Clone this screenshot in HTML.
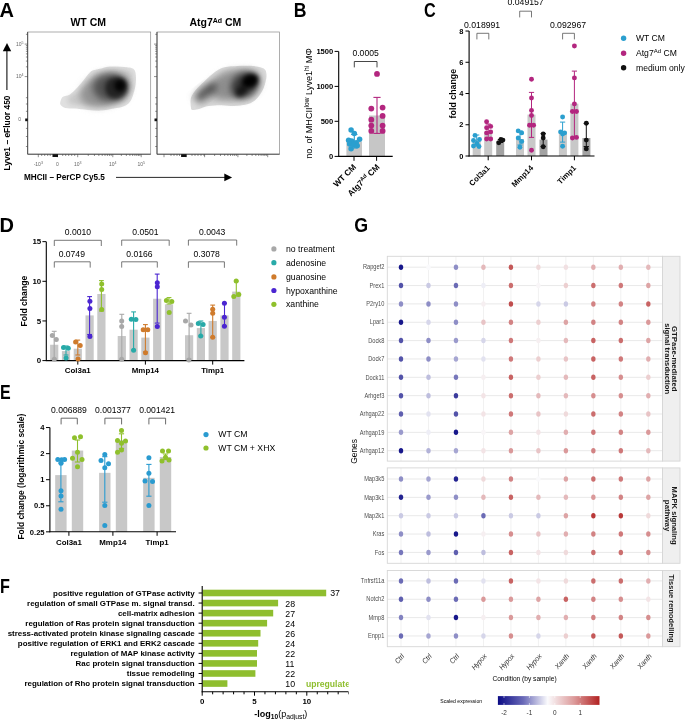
<!DOCTYPE html>
<html><head><meta charset="utf-8"><style>
html,body{margin:0;padding:0;background:#fff;}
svg{display:block;font-family:"Liberation Sans",sans-serif;}
.mb{isolation:isolate;} .mb>*{mix-blend-mode:multiply;}
</style></head><body>
<svg width="685" height="720" viewBox="0 0 685 720">
<rect width="685" height="720" fill="#fff"/>
<text transform="translate(-0.5,17.2) scale(1.0,1)" style="font-size:20px;font-weight:bold">A</text>
<text x="88.2" y="26" style="font-size:10.5px;font-weight:bold;fill:#000" text-anchor="middle" >WT CM</text>
<text x="215.4" y="26" style="font-size:10.5px;font-weight:bold" text-anchor="middle">Atg7<tspan dy="-3.5" style="font-size:7px">Ad</tspan><tspan dy="3.5"> CM</tspan></text>
<defs>
<filter id="b0" x="-30%" y="-30%" width="160%" height="160%"><feGaussianBlur stdDeviation="0.7"/></filter>
<filter id="b1" x="-30%" y="-30%" width="160%" height="160%"><feGaussianBlur stdDeviation="0.9"/></filter>
<filter id="b2" x="-30%" y="-30%" width="160%" height="160%"><feGaussianBlur stdDeviation="2.5"/></filter>
<filter id="b3" x="-50%" y="-50%" width="200%" height="200%"><feGaussianBlur stdDeviation="3.5"/></filter>
<filter id="b4" x="-50%" y="-50%" width="200%" height="200%"><feGaussianBlur stdDeviation="2"/></filter>
<linearGradient id="cbar" x1="0" x2="1" y1="0" y2="0">
<stop offset="0" stop-color="#0b0b85"/><stop offset="0.25" stop-color="#6a6ab8"/><stop offset="0.49" stop-color="#fbfbfd"/><stop offset="0.75" stop-color="#dc9a9a"/><stop offset="1" stop-color="#b22222"/>
</linearGradient>
</defs>
<g class="mb">
<path d="M60.3 102 C60.63 100.58 61.37 98 62.9 96.8 C64.43 95.6 67.1 96.33 69.5 94.8 C71.9 93.27 74.9 90.12 77.3 87.6 C79.7 85.08 81.7 82.33 83.9 79.7 C86.1 77.07 88.75 73.43 90.5 71.8 C92.25 70.17 92.65 70.45 94.4 69.9 C96.15 69.35 98.37 69.05 101 68.5 C103.63 67.95 105.82 66.82 110.2 66.6 C114.58 66.38 123.37 66.77 127.3 67.2 C131.23 67.63 132.38 67.98 133.8 69.2 C135.22 70.42 135.47 72.08 135.8 74.5 C136.13 76.92 136.13 80.65 135.8 83.7 C135.47 86.75 134.78 89.75 133.8 92.8 C132.82 95.85 131.65 99.7 129.9 102 C128.15 104.3 125.93 105.5 123.3 106.6 C120.67 107.7 117.82 107.93 114.1 108.6 C110.38 109.27 105.38 110.38 101 110.6 C96.62 110.82 92.18 110.23 87.8 109.9 C83.42 109.57 78.42 108.92 74.7 108.6 C70.98 108.28 67.8 108.55 65.5 108 C63.2 107.45 61.77 106.3 60.9 105.3 C60.03 104.3 59.97 103.42 60.3 102Z" fill="#e0e0e0" filter="url(#b0)"/>
<path d="M68.06 99.6 C68.34 98.4 68.96 96.2 70.27 95.18 C71.57 94.16 73.84 94.78 75.88 93.48 C77.91 92.18 80.46 89.5 82.5 87.36 C84.55 85.22 86.25 82.88 88.12 80.64 C89.99 78.41 92.24 75.32 93.72 73.93 C95.21 72.54 95.55 72.78 97.04 72.31 C98.53 71.85 100.41 71.59 102.65 71.12 C104.89 70.66 106.74 69.69 110.47 69.51 C114.2 69.33 121.66 69.65 125 70.02 C128.35 70.39 129.33 70.69 130.53 71.72 C131.73 72.75 131.95 74.17 132.23 76.22 C132.51 78.28 132.51 81.45 132.23 84.05 C131.95 86.64 131.37 89.19 130.53 91.78 C129.69 94.37 128.7 97.64 127.22 99.6 C125.73 101.55 123.84 102.57 121.6 103.51 C119.37 104.44 116.94 104.64 113.78 105.21 C110.63 105.78 106.38 106.73 102.65 106.91 C98.92 107.09 95.16 106.6 91.43 106.31 C87.7 106.03 83.45 105.48 80.3 105.21 C77.14 104.94 74.43 105.17 72.47 104.7 C70.52 104.23 69.3 103.25 68.56 102.41 C67.83 101.56 67.77 100.8 68.06 99.6Z" fill="#e4e4e4" filter="url(#b2)"/>
<ellipse cx="104" cy="90" rx="25" ry="16" fill="#bcbcbc" filter="url(#b3)" transform="rotate(-20 104 90)"/>
<ellipse cx="111" cy="87.5" rx="18" ry="14" fill="#8c8c8c" filter="url(#b3)"/>
<ellipse cx="116" cy="88" rx="11" ry="11" fill="#6c6c6c" filter="url(#b4)" transform="rotate(25 116 88)"/>
<ellipse cx="120" cy="85.5" rx="5.5" ry="6.2" fill="#181818" filter="url(#b4)" transform="rotate(15 120 85.5)"/>
</g>
<g class="mb">
<path d="M190.9 107.3 C190.68 105.33 190.13 100.95 190.9 98.1 C191.67 95.25 193.2 93.05 195.5 90.2 C197.8 87.35 201.42 84.07 204.7 81 C207.98 77.93 211.92 74.1 215.2 71.8 C218.48 69.5 220.67 68.18 224.4 67.2 C228.13 66.22 232.78 66.12 237.6 65.9 C242.42 65.68 248.93 65.47 253.3 65.9 C257.67 66.33 261.6 67.07 263.8 68.5 C266 69.93 266.28 71.97 266.5 74.5 C266.72 77.03 265.98 80.65 265.1 83.7 C264.22 86.75 262.95 89.97 261.2 92.8 C259.45 95.63 257.23 98.72 254.6 100.7 C251.97 102.68 249.33 103.82 245.4 104.7 C241.47 105.58 235.6 105.9 231 106 C226.4 106.1 221.97 105.2 217.8 105.3 C213.63 105.4 209.28 105.93 206 106.6 C202.72 107.27 200.4 108.75 198.1 109.3 C195.8 109.85 193.4 110.23 192.2 109.9 C191 109.57 191.12 109.27 190.9 107.3Z" fill="#dbdbdb" filter="url(#b0)"/>
<path d="M197.97 103.8 C197.78 102.13 197.31 98.41 197.97 95.98 C198.62 93.56 199.92 91.69 201.88 89.27 C203.83 86.85 206.9 84.06 209.69 81.45 C212.49 78.84 215.83 75.58 218.62 73.63 C221.41 71.67 223.27 70.56 226.44 69.72 C229.61 68.88 233.57 68.8 237.66 68.62 C241.75 68.43 247.29 68.25 251 68.62 C254.72 68.98 258.06 69.61 259.93 70.83 C261.8 72.04 262.04 73.77 262.23 75.92 C262.41 78.08 261.79 81.15 261.04 83.75 C260.28 86.34 259.21 89.07 257.72 91.48 C256.23 93.89 254.35 96.51 252.11 98.2 C249.87 99.88 247.63 100.84 244.29 101.59 C240.95 102.35 235.96 102.62 232.05 102.7 C228.14 102.78 224.37 102.02 220.83 102.1 C217.29 102.19 213.59 102.64 210.8 103.21 C208.01 103.78 206.04 105.04 204.08 105.5 C202.13 105.97 200.09 106.3 199.07 106.02 C198.05 105.73 198.15 105.48 197.97 103.8Z" fill="#e8e8e8" filter="url(#b2)"/>
<ellipse cx="205.5" cy="92" rx="13" ry="5.5" fill="#757575" filter="url(#b3)" transform="rotate(-38 205.5 92)"/>
<ellipse cx="233" cy="85" rx="24" ry="14" fill="#b8b8b8" filter="url(#b3)" transform="rotate(-15 233 85)"/>
<ellipse cx="245" cy="85" rx="15" ry="12" fill="#5c5c5c" filter="url(#b3)" transform="rotate(-35 245 85)"/>
<ellipse cx="250" cy="81" rx="8.5" ry="6.5" fill="#000" filter="url(#b4)" transform="rotate(-25 250 81)"/>
<ellipse cx="241.5" cy="91" rx="7" ry="4.5" fill="#6a6a6a" filter="url(#b4)" transform="rotate(-45 241.5 91)"/>
</g>
<rect x="27.7" y="32" width="123" height="122.2" fill="none" stroke="#8a8a8a" stroke-width="0.7"/>
<line x1="27.7" y1="32" x2="27.7" y2="154.2" stroke="#333" stroke-width="0.8" />
<line x1="27.7" y1="154.2" x2="150.7" y2="154.2" stroke="#333" stroke-width="0.8" />
<line x1="24.7" y1="44.1" x2="27.7" y2="44.1" stroke="#444" stroke-width="0.6" />
<line x1="24.7" y1="76.6" x2="27.7" y2="76.6" stroke="#444" stroke-width="0.6" />
<line x1="25.9" y1="66.82" x2="27.7" y2="66.82" stroke="#444" stroke-width="0.6" />
<line x1="25.9" y1="61.09" x2="27.7" y2="61.09" stroke="#444" stroke-width="0.6" />
<line x1="25.9" y1="57.03" x2="27.7" y2="57.03" stroke="#444" stroke-width="0.6" />
<line x1="25.9" y1="53.88" x2="27.7" y2="53.88" stroke="#444" stroke-width="0.6" />
<line x1="25.9" y1="51.31" x2="27.7" y2="51.31" stroke="#444" stroke-width="0.6" />
<line x1="25.9" y1="49.13" x2="27.7" y2="49.13" stroke="#444" stroke-width="0.6" />
<line x1="25.9" y1="47.25" x2="27.7" y2="47.25" stroke="#444" stroke-width="0.6" />
<line x1="25.9" y1="45.59" x2="27.7" y2="45.59" stroke="#444" stroke-width="0.6" />
<line x1="25.9" y1="34.32" x2="27.7" y2="34.32" stroke="#444" stroke-width="0.6" />
<line x1="25.9" y1="97.7" x2="27.7" y2="97.7" stroke="#444" stroke-width="0.6" />
<line x1="25.9" y1="104" x2="27.7" y2="104" stroke="#444" stroke-width="0.6" />
<line x1="25.9" y1="111.3" x2="27.7" y2="111.3" stroke="#444" stroke-width="0.6" />
<line x1="25.9" y1="128.4" x2="27.7" y2="128.4" stroke="#444" stroke-width="0.6" />
<line x1="25.9" y1="136.5" x2="27.7" y2="136.5" stroke="#444" stroke-width="0.6" />
<line x1="25.9" y1="146.5" x2="27.7" y2="146.5" stroke="#444" stroke-width="0.6" />
<rect x="25.2" y="118.5" width="2.5" height="2.7" fill="#111"/>
<line x1="38.3" y1="154.2" x2="38.3" y2="157.2" stroke="#444" stroke-width="0.6" />
<line x1="57.4" y1="154.2" x2="57.4" y2="157.2" stroke="#444" stroke-width="0.6" />
<line x1="77.7" y1="154.2" x2="77.7" y2="157.2" stroke="#444" stroke-width="0.6" />
<line x1="112.8" y1="154.2" x2="112.8" y2="157.2" stroke="#444" stroke-width="0.6" />
<line x1="141.2" y1="154.2" x2="141.2" y2="157.2" stroke="#444" stroke-width="0.6" />
<line x1="88.27" y1="154.2" x2="88.27" y2="156" stroke="#444" stroke-width="0.6" />
<line x1="121.35" y1="154.2" x2="121.35" y2="156" stroke="#444" stroke-width="0.6" />
<line x1="94.45" y1="154.2" x2="94.45" y2="156" stroke="#444" stroke-width="0.6" />
<line x1="126.35" y1="154.2" x2="126.35" y2="156" stroke="#444" stroke-width="0.6" />
<line x1="98.83" y1="154.2" x2="98.83" y2="156" stroke="#444" stroke-width="0.6" />
<line x1="129.9" y1="154.2" x2="129.9" y2="156" stroke="#444" stroke-width="0.6" />
<line x1="102.23" y1="154.2" x2="102.23" y2="156" stroke="#444" stroke-width="0.6" />
<line x1="132.65" y1="154.2" x2="132.65" y2="156" stroke="#444" stroke-width="0.6" />
<line x1="105.01" y1="154.2" x2="105.01" y2="156" stroke="#444" stroke-width="0.6" />
<line x1="134.9" y1="154.2" x2="134.9" y2="156" stroke="#444" stroke-width="0.6" />
<line x1="107.36" y1="154.2" x2="107.36" y2="156" stroke="#444" stroke-width="0.6" />
<line x1="136.8" y1="154.2" x2="136.8" y2="156" stroke="#444" stroke-width="0.6" />
<line x1="109.4" y1="154.2" x2="109.4" y2="156" stroke="#444" stroke-width="0.6" />
<line x1="138.45" y1="154.2" x2="138.45" y2="156" stroke="#444" stroke-width="0.6" />
<line x1="111.19" y1="154.2" x2="111.19" y2="156" stroke="#444" stroke-width="0.6" />
<line x1="139.9" y1="154.2" x2="139.9" y2="156" stroke="#444" stroke-width="0.6" />
<line x1="41.7" y1="154.2" x2="41.7" y2="156" stroke="#444" stroke-width="0.6" />
<line x1="44.7" y1="154.2" x2="44.7" y2="156" stroke="#444" stroke-width="0.6" />
<line x1="47.7" y1="154.2" x2="47.7" y2="156" stroke="#444" stroke-width="0.6" />
<line x1="50.2" y1="154.2" x2="50.2" y2="156" stroke="#444" stroke-width="0.6" />
<line x1="62.7" y1="154.2" x2="62.7" y2="156" stroke="#444" stroke-width="0.6" />
<line x1="65.7" y1="154.2" x2="65.7" y2="156" stroke="#444" stroke-width="0.6" />
<line x1="68.7" y1="154.2" x2="68.7" y2="156" stroke="#444" stroke-width="0.6" />
<line x1="71.7" y1="154.2" x2="71.7" y2="156" stroke="#444" stroke-width="0.6" />
<line x1="74.7" y1="154.2" x2="74.7" y2="156" stroke="#444" stroke-width="0.6" />
<rect x="52.5" y="154.2" width="5.5" height="2.8" fill="#111"/>
<rect x="157" y="32" width="122.6" height="122.2" fill="none" stroke="#8a8a8a" stroke-width="0.7"/>
<line x1="157" y1="32" x2="157" y2="154.2" stroke="#333" stroke-width="0.8" />
<line x1="157" y1="154.2" x2="279.6" y2="154.2" stroke="#333" stroke-width="0.8" />
<line x1="154" y1="44.1" x2="157" y2="44.1" stroke="#444" stroke-width="0.6" />
<line x1="154" y1="76.6" x2="157" y2="76.6" stroke="#444" stroke-width="0.6" />
<line x1="155.2" y1="66.82" x2="157" y2="66.82" stroke="#444" stroke-width="0.6" />
<line x1="155.2" y1="61.09" x2="157" y2="61.09" stroke="#444" stroke-width="0.6" />
<line x1="155.2" y1="57.03" x2="157" y2="57.03" stroke="#444" stroke-width="0.6" />
<line x1="155.2" y1="53.88" x2="157" y2="53.88" stroke="#444" stroke-width="0.6" />
<line x1="155.2" y1="51.31" x2="157" y2="51.31" stroke="#444" stroke-width="0.6" />
<line x1="155.2" y1="49.13" x2="157" y2="49.13" stroke="#444" stroke-width="0.6" />
<line x1="155.2" y1="47.25" x2="157" y2="47.25" stroke="#444" stroke-width="0.6" />
<line x1="155.2" y1="45.59" x2="157" y2="45.59" stroke="#444" stroke-width="0.6" />
<line x1="155.2" y1="34.32" x2="157" y2="34.32" stroke="#444" stroke-width="0.6" />
<line x1="155.2" y1="97.7" x2="157" y2="97.7" stroke="#444" stroke-width="0.6" />
<line x1="155.2" y1="104" x2="157" y2="104" stroke="#444" stroke-width="0.6" />
<line x1="155.2" y1="111.3" x2="157" y2="111.3" stroke="#444" stroke-width="0.6" />
<line x1="155.2" y1="128.4" x2="157" y2="128.4" stroke="#444" stroke-width="0.6" />
<line x1="155.2" y1="136.5" x2="157" y2="136.5" stroke="#444" stroke-width="0.6" />
<line x1="155.2" y1="146.5" x2="157" y2="146.5" stroke="#444" stroke-width="0.6" />
<rect x="154.5" y="118.5" width="2.5" height="2.7" fill="#111"/>
<line x1="164" y1="154.2" x2="164" y2="157.2" stroke="#444" stroke-width="0.6" />
<line x1="186" y1="154.2" x2="186" y2="157.2" stroke="#444" stroke-width="0.6" />
<line x1="204.6" y1="154.2" x2="204.6" y2="157.2" stroke="#444" stroke-width="0.6" />
<line x1="237.9" y1="154.2" x2="237.9" y2="157.2" stroke="#444" stroke-width="0.6" />
<line x1="267.7" y1="154.2" x2="267.7" y2="157.2" stroke="#444" stroke-width="0.6" />
<line x1="214.62" y1="154.2" x2="214.62" y2="156" stroke="#444" stroke-width="0.6" />
<line x1="246.87" y1="154.2" x2="246.87" y2="156" stroke="#444" stroke-width="0.6" />
<line x1="220.49" y1="154.2" x2="220.49" y2="156" stroke="#444" stroke-width="0.6" />
<line x1="252.12" y1="154.2" x2="252.12" y2="156" stroke="#444" stroke-width="0.6" />
<line x1="224.65" y1="154.2" x2="224.65" y2="156" stroke="#444" stroke-width="0.6" />
<line x1="255.84" y1="154.2" x2="255.84" y2="156" stroke="#444" stroke-width="0.6" />
<line x1="227.88" y1="154.2" x2="227.88" y2="156" stroke="#444" stroke-width="0.6" />
<line x1="258.73" y1="154.2" x2="258.73" y2="156" stroke="#444" stroke-width="0.6" />
<line x1="230.51" y1="154.2" x2="230.51" y2="156" stroke="#444" stroke-width="0.6" />
<line x1="261.09" y1="154.2" x2="261.09" y2="156" stroke="#444" stroke-width="0.6" />
<line x1="232.74" y1="154.2" x2="232.74" y2="156" stroke="#444" stroke-width="0.6" />
<line x1="263.08" y1="154.2" x2="263.08" y2="156" stroke="#444" stroke-width="0.6" />
<line x1="234.67" y1="154.2" x2="234.67" y2="156" stroke="#444" stroke-width="0.6" />
<line x1="264.81" y1="154.2" x2="264.81" y2="156" stroke="#444" stroke-width="0.6" />
<line x1="236.38" y1="154.2" x2="236.38" y2="156" stroke="#444" stroke-width="0.6" />
<line x1="266.34" y1="154.2" x2="266.34" y2="156" stroke="#444" stroke-width="0.6" />
<line x1="171" y1="154.2" x2="171" y2="156" stroke="#444" stroke-width="0.6" />
<line x1="174" y1="154.2" x2="174" y2="156" stroke="#444" stroke-width="0.6" />
<line x1="177" y1="154.2" x2="177" y2="156" stroke="#444" stroke-width="0.6" />
<line x1="179.5" y1="154.2" x2="179.5" y2="156" stroke="#444" stroke-width="0.6" />
<line x1="192" y1="154.2" x2="192" y2="156" stroke="#444" stroke-width="0.6" />
<line x1="195" y1="154.2" x2="195" y2="156" stroke="#444" stroke-width="0.6" />
<line x1="198" y1="154.2" x2="198" y2="156" stroke="#444" stroke-width="0.6" />
<line x1="201" y1="154.2" x2="201" y2="156" stroke="#444" stroke-width="0.6" />
<line x1="204" y1="154.2" x2="204" y2="156" stroke="#444" stroke-width="0.6" />
<rect x="181.1" y="154.2" width="5.5" height="2.8" fill="#111"/>
<text x="23.5" y="45.6" style="font-size:5px;fill:#666" text-anchor="end">10<tspan dy="-2" style="font-size:3.6px">5</tspan></text>
<text x="23.5" y="78.1" style="font-size:5px;fill:#666" text-anchor="end">10<tspan dy="-2" style="font-size:3.6px">4</tspan></text>
<text x="21" y="121.2" style="font-size:5px;fill:#666" text-anchor="end">0</text>
<text x="38.3" y="165.5" style="font-size:5px;fill:#666" text-anchor="middle">-10<tspan dy="-2" style="font-size:3.6px">3</tspan></text>
<text x="57.4" y="165.5" style="font-size:5px;fill:#666" text-anchor="middle">0</text>
<text x="77.7" y="165.5" style="font-size:5px;fill:#666" text-anchor="middle">10<tspan dy="-2" style="font-size:3.6px">3</tspan></text>
<text x="112.8" y="165.5" style="font-size:5px;fill:#666" text-anchor="middle">10<tspan dy="-2" style="font-size:3.6px">4</tspan></text>
<text x="141.2" y="165.5" style="font-size:5px;fill:#666" text-anchor="middle">10<tspan dy="-2" style="font-size:3.6px">5</tspan></text>
<text transform="translate(9.6,170.5) rotate(-90)" style="font-size:8.6px;font-weight:bold" textLength="75" lengthAdjust="spacingAndGlyphs">Lyve1 – eFluor 450</text>
<path d="M6.9 51 V90" stroke="#111" stroke-width="1.1"/>
<path d="M7 43 L11.2 51.2 L2.8 51.2Z" fill="#000"/>
<text x="23.9" y="179.9" style="font-size:8.9px;font-weight:bold" textLength="81" lengthAdjust="spacingAndGlyphs">MHCII – PerCP Cy5.5</text>
<path d="M116 177.4 H225" stroke="#111" stroke-width="0.9"/>
<path d="M232.1 177.4 L224.3 173.6 L224.3 181.2Z" fill="#000"/>
<text transform="translate(293.7,17.3) scale(0.883,1)" style="font-size:20px;font-weight:bold">B</text>
<rect x="346.4" y="141.4" width="15.6" height="15" fill="#c6c6c6" />
<rect x="369" y="115.5" width="16" height="40.9" fill="#c6c6c6" />
<line x1="338.7" y1="51.4" x2="338.7" y2="156.8" stroke="#000" stroke-width="1.1" />
<line x1="338.3" y1="156.4" x2="392.7" y2="156.4" stroke="#000" stroke-width="1.1" />
<line x1="334.6" y1="156.4" x2="338.7" y2="156.4" stroke="#000" stroke-width="1" />
<text x="333.3" y="159" style="font-size:7.6px;font-weight:bold;fill:#000" text-anchor="end" >0</text>
<line x1="334.6" y1="121.3" x2="338.7" y2="121.3" stroke="#000" stroke-width="1" />
<text x="333.3" y="123.9" style="font-size:7.6px;font-weight:bold;fill:#000" text-anchor="end" >500</text>
<line x1="334.6" y1="86.4" x2="338.7" y2="86.4" stroke="#000" stroke-width="1" />
<text x="333.3" y="89" style="font-size:7.6px;font-weight:bold;fill:#000" text-anchor="end" >1000</text>
<line x1="334.6" y1="51.4" x2="338.7" y2="51.4" stroke="#000" stroke-width="1" />
<text x="333.3" y="54" style="font-size:7.6px;font-weight:bold;fill:#000" text-anchor="end" >1500</text>
<line x1="354" y1="156.4" x2="354" y2="160.8" stroke="#000" stroke-width="1" />
<line x1="376.6" y1="156.4" x2="376.6" y2="160.8" stroke="#000" stroke-width="1" />
<path d="M354.3 67.4V61.5H377V67.4" fill="none" stroke="#333" stroke-width="0.9"/>
<text x="365.6" y="55.8" style="font-size:8.6px;fill:#000" text-anchor="middle" >0.0005</text>
<line x1="377" y1="97.4" x2="377" y2="133.4" stroke="#b3267f" stroke-width="1.1" />
<line x1="373.4" y1="97.4" x2="380.6" y2="97.4" stroke="#b3267f" stroke-width="1.1" />
<line x1="373.4" y1="133.4" x2="380.6" y2="133.4" stroke="#b3267f" stroke-width="1.1" />
<circle cx="377" cy="73.9" r="2.9" fill="#b3267f"/>
<circle cx="371.3" cy="108.6" r="2.9" fill="#b3267f"/>
<circle cx="382.6" cy="107.6" r="2.9" fill="#b3267f"/>
<circle cx="382.6" cy="115.9" r="2.9" fill="#b3267f"/>
<circle cx="371.3" cy="119.7" r="2.9" fill="#b3267f"/>
<circle cx="371.3" cy="125.6" r="2.9" fill="#b3267f"/>
<circle cx="382.6" cy="125.6" r="2.9" fill="#b3267f"/>
<circle cx="371.3" cy="130.9" r="2.9" fill="#b3267f"/>
<circle cx="382.6" cy="130.9" r="2.9" fill="#b3267f"/>
<line x1="354.3" y1="134.5" x2="354.3" y2="148" stroke="#2b9fcf" stroke-width="1.1" />
<line x1="351.1" y1="134.5" x2="357.5" y2="134.5" stroke="#2b9fcf" stroke-width="1.1" />
<line x1="351.1" y1="148" x2="357.5" y2="148" stroke="#2b9fcf" stroke-width="1.1" />
<circle cx="351.1" cy="130" r="2.75" fill="#2b9fcf"/>
<circle cx="354.3" cy="133.6" r="2.75" fill="#2b9fcf"/>
<circle cx="348.6" cy="140.2" r="2.75" fill="#2b9fcf"/>
<circle cx="351.6" cy="141" r="2.75" fill="#2b9fcf"/>
<circle cx="359.6" cy="139.2" r="2.75" fill="#2b9fcf"/>
<circle cx="356.2" cy="142.8" r="2.75" fill="#2b9fcf"/>
<circle cx="349.6" cy="143.9" r="2.75" fill="#2b9fcf"/>
<circle cx="353.5" cy="144.5" r="2.75" fill="#2b9fcf"/>
<circle cx="357.2" cy="145.8" r="2.75" fill="#2b9fcf"/>
<circle cx="351.1" cy="148.7" r="2.75" fill="#2b9fcf"/>
<text transform="translate(312.2,158.75) rotate(-90)" style="font-size:9px" textLength="110.5" lengthAdjust="spacingAndGlyphs">no. of MHCII<tspan dy="-3" style="font-size:6.5px">low</tspan><tspan dy="3"> Lyve1</tspan><tspan dy="-3" style="font-size:6.5px">hi</tspan><tspan dy="3"> MΦ</tspan></text>
<text transform="translate(356.7,167.5) rotate(-45)" style="font-size:8.4px;font-weight:bold" text-anchor="end">WT CM</text>
<text transform="translate(380.1,167.5) rotate(-45)" style="font-size:8.4px;font-weight:bold" text-anchor="end">Atg7<tspan dy="-3" style="font-size:5.5px">Ad</tspan><tspan dy="3"> CM</tspan></text>
<text transform="translate(424,17.4) scale(0.81,1)" style="font-size:20px;font-weight:bold">C</text>
<rect x="472.7" y="140.07" width="8" height="15.93" fill="#c8c8c8" />
<rect x="484.2" y="131.95" width="8" height="24.05" fill="#c8c8c8" />
<rect x="496.2" y="141" width="8" height="15" fill="#a2a2a2" />
<rect x="516" y="138.97" width="8" height="17.03" fill="#c8c8c8" />
<rect x="527.5" y="114.61" width="8" height="41.39" fill="#c8c8c8" />
<rect x="539.5" y="139.6" width="8" height="16.4" fill="#a2a2a2" />
<rect x="558.9" y="131.79" width="8" height="24.21" fill="#c8c8c8" />
<rect x="570.4" y="103.67" width="8" height="52.33" fill="#c8c8c8" />
<rect x="582.4" y="138.04" width="8" height="17.96" fill="#a2a2a2" />
<line x1="469.1" y1="31.1" x2="469.1" y2="156.5" stroke="#000" stroke-width="1.1" />
<line x1="468.6" y1="156" x2="594.5" y2="156" stroke="#000" stroke-width="1.1" />
<line x1="465.5" y1="156" x2="469.1" y2="156" stroke="#000" stroke-width="1" />
<text x="463.4" y="158.6" style="font-size:7.4px;font-weight:bold;fill:#000" text-anchor="end" >0</text>
<line x1="465.5" y1="124.76" x2="469.1" y2="124.76" stroke="#000" stroke-width="1" />
<text x="463.4" y="127.36" style="font-size:7.4px;font-weight:bold;fill:#000" text-anchor="end" >2</text>
<line x1="465.5" y1="93.52" x2="469.1" y2="93.52" stroke="#000" stroke-width="1" />
<text x="463.4" y="96.12" style="font-size:7.4px;font-weight:bold;fill:#000" text-anchor="end" >4</text>
<line x1="465.5" y1="62.28" x2="469.1" y2="62.28" stroke="#000" stroke-width="1" />
<text x="463.4" y="64.88" style="font-size:7.4px;font-weight:bold;fill:#000" text-anchor="end" >6</text>
<line x1="465.5" y1="31.04" x2="469.1" y2="31.04" stroke="#000" stroke-width="1" />
<text x="463.4" y="33.64" style="font-size:7.4px;font-weight:bold;fill:#000" text-anchor="end" >8</text>
<line x1="488.2" y1="156" x2="488.2" y2="160.3" stroke="#000" stroke-width="1" />
<line x1="531.5" y1="156" x2="531.5" y2="160.3" stroke="#000" stroke-width="1" />
<line x1="574.4" y1="156" x2="574.4" y2="160.3" stroke="#000" stroke-width="1" />
<line x1="476.7" y1="135" x2="476.7" y2="146" stroke="#2b9fcf" stroke-width="1" />
<line x1="474.1" y1="135" x2="479.3" y2="135" stroke="#2b9fcf" stroke-width="1" />
<line x1="474.1" y1="146" x2="479.3" y2="146" stroke="#2b9fcf" stroke-width="1" />
<line x1="488.2" y1="124" x2="488.2" y2="139" stroke="#b3267f" stroke-width="1" />
<line x1="485.6" y1="124" x2="490.8" y2="124" stroke="#b3267f" stroke-width="1" />
<line x1="485.6" y1="139" x2="490.8" y2="139" stroke="#b3267f" stroke-width="1" />
<line x1="500.4" y1="139.5" x2="500.4" y2="142.5" stroke="#111" stroke-width="1" />
<line x1="497.8" y1="139.5" x2="503" y2="139.5" stroke="#111" stroke-width="1" />
<line x1="497.8" y1="142.5" x2="503" y2="142.5" stroke="#111" stroke-width="1" />
<line x1="520" y1="131" x2="520" y2="145" stroke="#2b9fcf" stroke-width="1" />
<line x1="517.4" y1="131" x2="522.6" y2="131" stroke="#2b9fcf" stroke-width="1" />
<line x1="517.4" y1="145" x2="522.6" y2="145" stroke="#2b9fcf" stroke-width="1" />
<line x1="531.5" y1="92.4" x2="531.5" y2="137.4" stroke="#b3267f" stroke-width="1" />
<line x1="528.9" y1="92.4" x2="534.1" y2="92.4" stroke="#b3267f" stroke-width="1" />
<line x1="528.9" y1="137.4" x2="534.1" y2="137.4" stroke="#b3267f" stroke-width="1" />
<line x1="543.2" y1="133.5" x2="543.2" y2="146.5" stroke="#111" stroke-width="1" />
<line x1="540.6" y1="133.5" x2="545.8" y2="133.5" stroke="#111" stroke-width="1" />
<line x1="540.6" y1="146.5" x2="545.8" y2="146.5" stroke="#111" stroke-width="1" />
<line x1="562.6" y1="122.1" x2="562.6" y2="142.1" stroke="#2b9fcf" stroke-width="1" />
<line x1="560" y1="122.1" x2="565.2" y2="122.1" stroke="#2b9fcf" stroke-width="1" />
<line x1="560" y1="142.1" x2="565.2" y2="142.1" stroke="#2b9fcf" stroke-width="1" />
<line x1="574.4" y1="71.1" x2="574.4" y2="138" stroke="#b3267f" stroke-width="1" />
<line x1="571.8" y1="71.1" x2="577" y2="71.1" stroke="#b3267f" stroke-width="1" />
<line x1="571.8" y1="138" x2="577" y2="138" stroke="#b3267f" stroke-width="1" />
<line x1="586.3" y1="123.3" x2="586.3" y2="146.5" stroke="#111" stroke-width="1" />
<line x1="583.7" y1="123.3" x2="588.9" y2="123.3" stroke="#111" stroke-width="1" />
<line x1="583.7" y1="146.5" x2="588.9" y2="146.5" stroke="#111" stroke-width="1" />
<circle cx="475" cy="135.4" r="2.45" fill="#2b9fcf"/>
<circle cx="479.5" cy="139.5" r="2.45" fill="#2b9fcf"/>
<circle cx="473.5" cy="140.5" r="2.45" fill="#2b9fcf"/>
<circle cx="477" cy="143.5" r="2.45" fill="#2b9fcf"/>
<circle cx="473.5" cy="146" r="2.45" fill="#2b9fcf"/>
<circle cx="479" cy="146.5" r="2.45" fill="#2b9fcf"/>
<circle cx="518.2" cy="130.9" r="2.45" fill="#2b9fcf"/>
<circle cx="521.7" cy="132.9" r="2.45" fill="#2b9fcf"/>
<circle cx="518.2" cy="138" r="2.45" fill="#2b9fcf"/>
<circle cx="521.7" cy="141.5" r="2.45" fill="#2b9fcf"/>
<circle cx="519.9" cy="147.2" r="2.45" fill="#2b9fcf"/>
<circle cx="562.6" cy="117" r="2.45" fill="#2b9fcf"/>
<circle cx="560.6" cy="131.9" r="2.45" fill="#2b9fcf"/>
<circle cx="564.6" cy="132.9" r="2.45" fill="#2b9fcf"/>
<circle cx="562.6" cy="134" r="2.45" fill="#2b9fcf"/>
<circle cx="562.6" cy="146.2" r="2.45" fill="#2b9fcf"/>
<circle cx="486.6" cy="121.7" r="2.45" fill="#b3267f"/>
<circle cx="490.7" cy="126.4" r="2.45" fill="#b3267f"/>
<circle cx="486.6" cy="127.8" r="2.45" fill="#b3267f"/>
<circle cx="490.7" cy="131.9" r="2.45" fill="#b3267f"/>
<circle cx="486.6" cy="132.9" r="2.45" fill="#b3267f"/>
<circle cx="486.6" cy="139" r="2.45" fill="#b3267f"/>
<circle cx="490.7" cy="139" r="2.45" fill="#b3267f"/>
<circle cx="531.5" cy="79.3" r="2.45" fill="#b3267f"/>
<circle cx="531.5" cy="98" r="2.45" fill="#b3267f"/>
<circle cx="531.5" cy="110.4" r="2.45" fill="#b3267f"/>
<circle cx="531.5" cy="115.5" r="2.45" fill="#b3267f"/>
<circle cx="529.5" cy="125.2" r="2.45" fill="#b3267f"/>
<circle cx="533.6" cy="125.2" r="2.45" fill="#b3267f"/>
<circle cx="531.5" cy="150.3" r="2.45" fill="#b3267f"/>
<circle cx="574.4" cy="46" r="2.45" fill="#b3267f"/>
<circle cx="574.4" cy="77.9" r="2.45" fill="#b3267f"/>
<circle cx="574.4" cy="103.9" r="2.45" fill="#b3267f"/>
<circle cx="572.4" cy="111.5" r="2.45" fill="#b3267f"/>
<circle cx="576.5" cy="111.5" r="2.45" fill="#b3267f"/>
<circle cx="572.4" cy="138" r="2.45" fill="#b3267f"/>
<circle cx="576.5" cy="137.4" r="2.45" fill="#b3267f"/>
<circle cx="498.8" cy="142.7" r="2.45" fill="#111"/>
<circle cx="500.9" cy="139.5" r="2.45" fill="#111"/>
<circle cx="502.9" cy="140.1" r="2.45" fill="#111"/>
<circle cx="543.2" cy="133.9" r="2.45" fill="#111"/>
<circle cx="543.2" cy="138" r="2.45" fill="#111"/>
<circle cx="543.2" cy="146.8" r="2.45" fill="#111"/>
<circle cx="586.3" cy="123.3" r="2.45" fill="#111"/>
<circle cx="586.3" cy="140.1" r="2.45" fill="#111"/>
<circle cx="586.3" cy="148.9" r="2.45" fill="#111"/>
<path d="M476.9 39.4V33.3H488.8V39.4" fill="none" stroke="#555" stroke-width="0.8"/>
<path d="M519.7 17.4V11.2H531.5V17.4" fill="none" stroke="#555" stroke-width="0.8"/>
<path d="M562.6 39.4V33.3H574.4V39.4" fill="none" stroke="#555" stroke-width="0.8"/>
<text x="482.1" y="27.7" style="font-size:8.7px;fill:#000" text-anchor="middle" >0.018991</text>
<text x="525.6" y="5.1" style="font-size:8.7px;fill:#000" text-anchor="middle" >0.049157</text>
<text x="568" y="27.6" style="font-size:8.7px;fill:#000" text-anchor="middle" >0.092967</text>
<text transform="translate(456,118.4) rotate(-90)" style="font-size:8.6px;font-weight:bold" textLength="49.6" lengthAdjust="spacingAndGlyphs">fold change</text>
<text transform="translate(490.4,168.5) rotate(-45)" style="font-size:7.8px;font-weight:bold" text-anchor="end">Col3a1</text>
<text transform="translate(533.7,168.5) rotate(-45)" style="font-size:7.8px;font-weight:bold" text-anchor="end">Mmp14</text>
<text transform="translate(576.6,168.5) rotate(-45)" style="font-size:7.8px;font-weight:bold" text-anchor="end">Timp1</text>
<circle cx="623.6" cy="38.2" r="2.7" fill="#2b9fcf"/>
<circle cx="623.6" cy="53.3" r="2.7" fill="#b3267f"/>
<circle cx="623.6" cy="67.8" r="2.7" fill="#111"/>
<text x="636" y="41.1" style="font-size:8.6px;fill:#000" text-anchor="start" >WT CM</text>
<text x="636" y="56.2" style="font-size:8.6px">Atg7<tspan dy="-3.2" style="font-size:6px">Ad</tspan><tspan dy="3.2"> CM</tspan></text>
<text x="636" y="70.7" style="font-size:8.6px;fill:#000" text-anchor="start" >medium only</text>
<text transform="translate(-0.5,232) scale(1.0,1)" style="font-size:20px;font-weight:bold">D</text>
<rect x="50.1" y="344.74" width="8.2" height="15.86" fill="#c8c8c8" />
<rect x="61.9" y="351.08" width="8.2" height="9.52" fill="#c8c8c8" />
<rect x="73.7" y="348.71" width="8.2" height="11.89" fill="#c8c8c8" />
<rect x="85.5" y="315.4" width="8.2" height="45.2" fill="#c8c8c8" />
<rect x="97.3" y="293.99" width="8.2" height="66.61" fill="#c8c8c8" />
<rect x="117.7" y="336.02" width="8.2" height="24.58" fill="#c8c8c8" />
<rect x="129.5" y="329.67" width="8.2" height="30.93" fill="#c8c8c8" />
<rect x="141.3" y="337.6" width="8.2" height="23" fill="#c8c8c8" />
<rect x="153.1" y="298.75" width="8.2" height="61.85" fill="#c8c8c8" />
<rect x="164.9" y="304.3" width="8.2" height="56.3" fill="#c8c8c8" />
<rect x="185" y="335.22" width="8.2" height="25.38" fill="#c8c8c8" />
<rect x="196.8" y="328.09" width="8.2" height="32.51" fill="#c8c8c8" />
<rect x="208.6" y="320.95" width="8.2" height="39.65" fill="#c8c8c8" />
<rect x="220.4" y="315.4" width="8.2" height="45.2" fill="#c8c8c8" />
<rect x="232.2" y="291.61" width="8.2" height="68.99" fill="#c8c8c8" />
<line x1="46.3" y1="241.7" x2="46.3" y2="361.1" stroke="#000" stroke-width="1.1" />
<line x1="45.8" y1="360.6" x2="244.4" y2="360.6" stroke="#000" stroke-width="1.1" />
<line x1="42.4" y1="360.6" x2="46.3" y2="360.6" stroke="#000" stroke-width="1" />
<text x="41.2" y="363.4" style="font-size:7.9px;font-weight:bold;fill:#000" text-anchor="end" >0</text>
<line x1="42.4" y1="320.95" x2="46.3" y2="320.95" stroke="#000" stroke-width="1" />
<text x="41.2" y="323.75" style="font-size:7.9px;font-weight:bold;fill:#000" text-anchor="end" >5</text>
<line x1="42.4" y1="281.3" x2="46.3" y2="281.3" stroke="#000" stroke-width="1" />
<text x="41.2" y="284.1" style="font-size:7.9px;font-weight:bold;fill:#000" text-anchor="end" >10</text>
<line x1="42.4" y1="241.65" x2="46.3" y2="241.65" stroke="#000" stroke-width="1" />
<text x="41.2" y="244.45" style="font-size:7.9px;font-weight:bold;fill:#000" text-anchor="end" >15</text>
<line x1="77.8" y1="360.6" x2="77.8" y2="364.6" stroke="#000" stroke-width="1" />
<line x1="145.4" y1="360.6" x2="145.4" y2="364.6" stroke="#000" stroke-width="1" />
<line x1="212.7" y1="360.6" x2="212.7" y2="364.6" stroke="#000" stroke-width="1" />
<text x="77.8" y="373.3" style="font-size:7.9px;font-weight:bold;fill:#000" text-anchor="middle" >Col3a1</text>
<text x="145.4" y="373.3" style="font-size:7.9px;font-weight:bold;fill:#000" text-anchor="middle" >Mmp14</text>
<text x="212.7" y="373.3" style="font-size:7.9px;font-weight:bold;fill:#000" text-anchor="middle" >Timp1</text>
<line x1="54.2" y1="331.3" x2="54.2" y2="359" stroke="#a8a8a8" stroke-width="1.1" />
<line x1="51.8" y1="331.3" x2="56.6" y2="331.3" stroke="#a8a8a8" stroke-width="1.1" />
<line x1="51.8" y1="359" x2="56.6" y2="359" stroke="#a8a8a8" stroke-width="1.1" />
<circle cx="52.3" cy="335.4" r="2.5" fill="#a8a8a8"/>
<circle cx="56.3" cy="339.5" r="2.5" fill="#a8a8a8"/>
<circle cx="54.3" cy="359.3" r="2.5" fill="#a8a8a8"/>
<line x1="66" y1="346" x2="66" y2="355" stroke="#28aaa8" stroke-width="1.1" />
<line x1="63.6" y1="346" x2="68.4" y2="346" stroke="#28aaa8" stroke-width="1.1" />
<line x1="63.6" y1="355" x2="68.4" y2="355" stroke="#28aaa8" stroke-width="1.1" />
<circle cx="63.5" cy="347.5" r="2.5" fill="#28aaa8"/>
<circle cx="68.3" cy="348.3" r="2.5" fill="#28aaa8"/>
<circle cx="66.1" cy="357.9" r="2.5" fill="#28aaa8"/>
<line x1="77.8" y1="340.1" x2="77.8" y2="355" stroke="#cf7b2c" stroke-width="1.1" />
<line x1="75.4" y1="340.1" x2="80.2" y2="340.1" stroke="#cf7b2c" stroke-width="1.1" />
<line x1="75.4" y1="355" x2="80.2" y2="355" stroke="#cf7b2c" stroke-width="1.1" />
<circle cx="75.6" cy="342" r="2.5" fill="#cf7b2c"/>
<circle cx="80.2" cy="345.5" r="2.5" fill="#cf7b2c"/>
<circle cx="78" cy="359" r="2.5" fill="#cf7b2c"/>
<line x1="89.6" y1="296.6" x2="89.6" y2="334.5" stroke="#4b26d1" stroke-width="1.1" />
<line x1="87.2" y1="296.6" x2="92" y2="296.6" stroke="#4b26d1" stroke-width="1.1" />
<line x1="87.2" y1="334.5" x2="92" y2="334.5" stroke="#4b26d1" stroke-width="1.1" />
<circle cx="89.9" cy="301.3" r="2.5" fill="#4b26d1"/>
<circle cx="89.9" cy="308.4" r="2.5" fill="#4b26d1"/>
<circle cx="89.9" cy="336.4" r="2.5" fill="#4b26d1"/>
<line x1="101.4" y1="280.6" x2="101.4" y2="311" stroke="#8fc02c" stroke-width="1.1" />
<line x1="99" y1="280.6" x2="103.8" y2="280.6" stroke="#8fc02c" stroke-width="1.1" />
<line x1="99" y1="311" x2="103.8" y2="311" stroke="#8fc02c" stroke-width="1.1" />
<circle cx="101.7" cy="283.9" r="2.5" fill="#8fc02c"/>
<circle cx="101.7" cy="289.4" r="2.5" fill="#8fc02c"/>
<circle cx="101.7" cy="309.4" r="2.5" fill="#8fc02c"/>
<line x1="121.8" y1="314.3" x2="121.8" y2="359" stroke="#a8a8a8" stroke-width="1.1" />
<line x1="119.4" y1="314.3" x2="124.2" y2="314.3" stroke="#a8a8a8" stroke-width="1.1" />
<line x1="119.4" y1="359" x2="124.2" y2="359" stroke="#a8a8a8" stroke-width="1.1" />
<circle cx="121.7" cy="321" r="2.5" fill="#a8a8a8"/>
<circle cx="121.7" cy="326.6" r="2.5" fill="#a8a8a8"/>
<circle cx="121.7" cy="359.3" r="2.5" fill="#a8a8a8"/>
<line x1="133.6" y1="311.9" x2="133.6" y2="350" stroke="#28aaa8" stroke-width="1.1" />
<line x1="131.2" y1="311.9" x2="136" y2="311.9" stroke="#28aaa8" stroke-width="1.1" />
<line x1="131.2" y1="350" x2="136" y2="350" stroke="#28aaa8" stroke-width="1.1" />
<circle cx="131.3" cy="319.2" r="2.5" fill="#28aaa8"/>
<circle cx="135.9" cy="319.6" r="2.5" fill="#28aaa8"/>
<circle cx="133.6" cy="350.3" r="2.5" fill="#28aaa8"/>
<line x1="145.4" y1="324.6" x2="145.4" y2="352" stroke="#cf7b2c" stroke-width="1.1" />
<line x1="143" y1="324.6" x2="147.8" y2="324.6" stroke="#cf7b2c" stroke-width="1.1" />
<line x1="143" y1="352" x2="147.8" y2="352" stroke="#cf7b2c" stroke-width="1.1" />
<circle cx="143.2" cy="329.8" r="2.5" fill="#cf7b2c"/>
<circle cx="147.8" cy="329.8" r="2.5" fill="#cf7b2c"/>
<circle cx="145.5" cy="352.8" r="2.5" fill="#cf7b2c"/>
<line x1="157.2" y1="274.1" x2="157.2" y2="323.1" stroke="#4b26d1" stroke-width="1.1" />
<line x1="154.8" y1="274.1" x2="159.6" y2="274.1" stroke="#4b26d1" stroke-width="1.1" />
<line x1="154.8" y1="323.1" x2="159.6" y2="323.1" stroke="#4b26d1" stroke-width="1.1" />
<circle cx="157.3" cy="282.7" r="2.5" fill="#4b26d1"/>
<circle cx="157.3" cy="286.8" r="2.5" fill="#4b26d1"/>
<circle cx="157.3" cy="326.6" r="2.5" fill="#4b26d1"/>
<line x1="169" y1="297.6" x2="169" y2="304" stroke="#8fc02c" stroke-width="1.1" />
<line x1="166.6" y1="297.6" x2="171.4" y2="297.6" stroke="#8fc02c" stroke-width="1.1" />
<line x1="166.6" y1="304" x2="171.4" y2="304" stroke="#8fc02c" stroke-width="1.1" />
<circle cx="166.4" cy="300.5" r="2.5" fill="#8fc02c"/>
<circle cx="171.8" cy="301.4" r="2.5" fill="#8fc02c"/>
<circle cx="169.2" cy="312.5" r="2.5" fill="#8fc02c"/>
<line x1="189.1" y1="313.3" x2="189.1" y2="359" stroke="#a8a8a8" stroke-width="1.1" />
<line x1="186.7" y1="313.3" x2="191.5" y2="313.3" stroke="#a8a8a8" stroke-width="1.1" />
<line x1="186.7" y1="359" x2="191.5" y2="359" stroke="#a8a8a8" stroke-width="1.1" />
<circle cx="185.5" cy="321.1" r="2.5" fill="#a8a8a8"/>
<circle cx="191" cy="324.9" r="2.5" fill="#a8a8a8"/>
<circle cx="188.9" cy="360" r="2.5" fill="#a8a8a8"/>
<line x1="200.9" y1="321" x2="200.9" y2="336" stroke="#28aaa8" stroke-width="1.1" />
<line x1="198.5" y1="321" x2="203.3" y2="321" stroke="#28aaa8" stroke-width="1.1" />
<line x1="198.5" y1="336" x2="203.3" y2="336" stroke="#28aaa8" stroke-width="1.1" />
<circle cx="198.3" cy="323.5" r="2.5" fill="#28aaa8"/>
<circle cx="203.1" cy="324.5" r="2.5" fill="#28aaa8"/>
<circle cx="200.7" cy="336" r="2.5" fill="#28aaa8"/>
<line x1="212.7" y1="305.1" x2="212.7" y2="337.3" stroke="#cf7b2c" stroke-width="1.1" />
<line x1="210.3" y1="305.1" x2="215.1" y2="305.1" stroke="#cf7b2c" stroke-width="1.1" />
<line x1="210.3" y1="337.3" x2="215.1" y2="337.3" stroke="#cf7b2c" stroke-width="1.1" />
<circle cx="212.7" cy="309.3" r="2.5" fill="#cf7b2c"/>
<circle cx="212.7" cy="313.3" r="2.5" fill="#cf7b2c"/>
<circle cx="212.7" cy="337.3" r="2.5" fill="#cf7b2c"/>
<line x1="224.5" y1="303.3" x2="224.5" y2="326.2" stroke="#4b26d1" stroke-width="1.1" />
<line x1="222.1" y1="303.3" x2="226.9" y2="303.3" stroke="#4b26d1" stroke-width="1.1" />
<line x1="222.1" y1="326.2" x2="226.9" y2="326.2" stroke="#4b26d1" stroke-width="1.1" />
<circle cx="224.4" cy="303.3" r="2.5" fill="#4b26d1"/>
<circle cx="224.4" cy="317.3" r="2.5" fill="#4b26d1"/>
<circle cx="224.4" cy="326.2" r="2.5" fill="#4b26d1"/>
<line x1="236.3" y1="281.1" x2="236.3" y2="296" stroke="#8fc02c" stroke-width="1.1" />
<line x1="233.9" y1="281.1" x2="238.7" y2="281.1" stroke="#8fc02c" stroke-width="1.1" />
<line x1="233.9" y1="296" x2="238.7" y2="296" stroke="#8fc02c" stroke-width="1.1" />
<circle cx="236.2" cy="281.1" r="2.5" fill="#8fc02c"/>
<circle cx="233.8" cy="296.5" r="2.5" fill="#8fc02c"/>
<circle cx="238.8" cy="294.5" r="2.5" fill="#8fc02c"/>
<path d="M54.3 246V240.3H101.3V246" fill="none" stroke="#555" stroke-width="0.8"/>
<path d="M54.3 267.6V261.8H90.2V267.6" fill="none" stroke="#555" stroke-width="0.8"/>
<path d="M121.7 245.8V240.1H169.2V245.8" fill="none" stroke="#555" stroke-width="0.8"/>
<path d="M121.7 267.6V261.8H157.3V267.6" fill="none" stroke="#555" stroke-width="0.8"/>
<path d="M188.4 245.6V240H236.7V245.6" fill="none" stroke="#555" stroke-width="0.8"/>
<path d="M188.4 267.8V261.8H224.4V267.8" fill="none" stroke="#555" stroke-width="0.8"/>
<text x="78" y="235.2" style="font-size:8.6px;fill:#000" text-anchor="middle" >0.0010</text>
<text x="71.8" y="257.1" style="font-size:8.6px;fill:#000" text-anchor="middle" >0.0749</text>
<text x="145.4" y="235.2" style="font-size:8.6px;fill:#000" text-anchor="middle" >0.0501</text>
<text x="139.5" y="257.1" style="font-size:8.6px;fill:#000" text-anchor="middle" >0.0166</text>
<text x="212.2" y="235.2" style="font-size:8.6px;fill:#000" text-anchor="middle" >0.0043</text>
<text x="206.7" y="257.1" style="font-size:8.6px;fill:#000" text-anchor="middle" >0.3078</text>
<text transform="translate(27.4,326.5) rotate(-90)" style="font-size:8.6px;font-weight:bold" textLength="50.7" lengthAdjust="spacingAndGlyphs">Fold change</text>
<circle cx="273.9" cy="248.9" r="2.6" fill="#a8a8a8"/>
<text x="286" y="251.9" style="font-size:8.7px;fill:#000" text-anchor="start" >no treatment</text>
<circle cx="273.9" cy="262.7" r="2.6" fill="#28aaa8"/>
<text x="286" y="265.7" style="font-size:8.7px;fill:#000" text-anchor="start" >adenosine</text>
<circle cx="273.9" cy="276.9" r="2.6" fill="#cf7b2c"/>
<text x="286" y="279.9" style="font-size:8.7px;fill:#000" text-anchor="start" >guanosine</text>
<circle cx="273.9" cy="290.5" r="2.6" fill="#4b26d1"/>
<text x="286" y="293.5" style="font-size:8.7px;fill:#000" text-anchor="start" >hypoxanthine</text>
<circle cx="273.9" cy="304.3" r="2.6" fill="#8fc02c"/>
<text x="286" y="307.3" style="font-size:8.7px;fill:#000" text-anchor="start" >xanthine</text>
<text transform="translate(-0.1,399.1) scale(0.8,1)" style="font-size:20px;font-weight:bold">E</text>
<rect x="55.2" y="475.1" width="11.4" height="56.7" fill="#c8c8c8" />
<rect x="71.8" y="450.56" width="11.4" height="81.24" fill="#c8c8c8" />
<rect x="99.1" y="472.84" width="11.4" height="58.96" fill="#c8c8c8" />
<rect x="115.8" y="440.05" width="11.4" height="91.75" fill="#c8c8c8" />
<rect x="143.2" y="477.86" width="11.4" height="53.94" fill="#c8c8c8" />
<rect x="159.8" y="456.97" width="11.4" height="74.83" fill="#c8c8c8" />
<line x1="49.9" y1="427.5" x2="49.9" y2="532.3" stroke="#000" stroke-width="1.1" />
<line x1="49.4" y1="531.8" x2="176" y2="531.8" stroke="#000" stroke-width="1.1" />
<line x1="46" y1="427.56" x2="49.9" y2="427.56" stroke="#000" stroke-width="1" />
<text x="44.6" y="430.26" style="font-size:7.6px;font-weight:bold;fill:#000" text-anchor="end" >4</text>
<line x1="46" y1="453.63" x2="49.9" y2="453.63" stroke="#000" stroke-width="1" />
<text x="44.6" y="456.33" style="font-size:7.6px;font-weight:bold;fill:#000" text-anchor="end" >2</text>
<line x1="46" y1="479.7" x2="49.9" y2="479.7" stroke="#000" stroke-width="1" />
<text x="44.6" y="482.4" style="font-size:7.6px;font-weight:bold;fill:#000" text-anchor="end" >1</text>
<line x1="46" y1="505.77" x2="49.9" y2="505.77" stroke="#000" stroke-width="1" />
<text x="44.6" y="508.47" style="font-size:7.6px;font-weight:bold;fill:#000" text-anchor="end" >0.5</text>
<line x1="46" y1="531.84" x2="49.9" y2="531.84" stroke="#000" stroke-width="1" />
<text x="44.6" y="534.54" style="font-size:7.6px;font-weight:bold;fill:#000" text-anchor="end" >0.25</text>
<line x1="68.9" y1="531.8" x2="68.9" y2="535.8" stroke="#000" stroke-width="1" />
<line x1="112.9" y1="531.8" x2="112.9" y2="535.8" stroke="#000" stroke-width="1" />
<line x1="157.1" y1="531.8" x2="157.1" y2="535.8" stroke="#000" stroke-width="1" />
<text x="68.9" y="544.6" style="font-size:7.9px;font-weight:bold;fill:#000" text-anchor="middle" >Col3a1</text>
<text x="112.9" y="544.6" style="font-size:7.9px;font-weight:bold;fill:#000" text-anchor="middle" >Mmp14</text>
<text x="157.1" y="544.6" style="font-size:7.9px;font-weight:bold;fill:#000" text-anchor="middle" >Timp1</text>
<text x="68.9" y="412.8" style="font-size:8.6px;fill:#000" text-anchor="middle" >0.006889</text>
<text x="112.9" y="412.8" style="font-size:8.6px;fill:#000" text-anchor="middle" >0.001377</text>
<text x="157.1" y="412.8" style="font-size:8.6px;fill:#000" text-anchor="middle" >0.001421</text>
<path d="M61.1 424.4V418.2H77.3V424.4" fill="none" stroke="#444" stroke-width="0.8"/>
<path d="M104.9 424.4V418.2H121.6V424.4" fill="none" stroke="#444" stroke-width="0.8"/>
<path d="M148.9 424.4V418.2H165.6V424.4" fill="none" stroke="#444" stroke-width="0.8"/>
<line x1="60.9" y1="463" x2="60.9" y2="501.8" stroke="#2a9bd0" stroke-width="1.1" />
<line x1="58.3" y1="463" x2="63.5" y2="463" stroke="#2a9bd0" stroke-width="1.1" />
<line x1="58.3" y1="501.8" x2="63.5" y2="501.8" stroke="#2a9bd0" stroke-width="1.1" />
<line x1="77.5" y1="440" x2="77.5" y2="462" stroke="#8fc02c" stroke-width="1.1" />
<line x1="74.9" y1="440" x2="80.1" y2="440" stroke="#8fc02c" stroke-width="1.1" />
<line x1="74.9" y1="462" x2="80.1" y2="462" stroke="#8fc02c" stroke-width="1.1" />
<line x1="104.8" y1="456.7" x2="104.8" y2="502.2" stroke="#2a9bd0" stroke-width="1.1" />
<line x1="102.2" y1="456.7" x2="107.4" y2="456.7" stroke="#2a9bd0" stroke-width="1.1" />
<line x1="102.2" y1="502.2" x2="107.4" y2="502.2" stroke="#2a9bd0" stroke-width="1.1" />
<line x1="121.5" y1="433.8" x2="121.5" y2="448.4" stroke="#8fc02c" stroke-width="1.1" />
<line x1="118.9" y1="433.8" x2="124.1" y2="433.8" stroke="#8fc02c" stroke-width="1.1" />
<line x1="118.9" y1="448.4" x2="124.1" y2="448.4" stroke="#8fc02c" stroke-width="1.1" />
<line x1="148.9" y1="464.4" x2="148.9" y2="496.2" stroke="#2a9bd0" stroke-width="1.1" />
<line x1="146.3" y1="464.4" x2="151.5" y2="464.4" stroke="#2a9bd0" stroke-width="1.1" />
<line x1="146.3" y1="496.2" x2="151.5" y2="496.2" stroke="#2a9bd0" stroke-width="1.1" />
<line x1="165.5" y1="454" x2="165.5" y2="459.6" stroke="#8fc02c" stroke-width="1.1" />
<line x1="162.9" y1="454" x2="168.1" y2="454" stroke="#8fc02c" stroke-width="1.1" />
<line x1="162.9" y1="459.6" x2="168.1" y2="459.6" stroke="#8fc02c" stroke-width="1.1" />
<circle cx="57.8" cy="459.6" r="2.5" fill="#2a9bd0"/>
<circle cx="61.6" cy="459.8" r="2.5" fill="#2a9bd0"/>
<circle cx="64.6" cy="459.6" r="2.5" fill="#2a9bd0"/>
<circle cx="61" cy="463.3" r="2.5" fill="#2a9bd0"/>
<circle cx="61" cy="490.7" r="2.5" fill="#2a9bd0"/>
<circle cx="61" cy="496" r="2.5" fill="#2a9bd0"/>
<circle cx="61" cy="509.3" r="2.5" fill="#2a9bd0"/>
<circle cx="104.8" cy="454.4" r="2.5" fill="#2a9bd0"/>
<circle cx="101" cy="460.4" r="2.5" fill="#2a9bd0"/>
<circle cx="108.5" cy="463.8" r="2.5" fill="#2a9bd0"/>
<circle cx="104.8" cy="467.8" r="2.5" fill="#2a9bd0"/>
<circle cx="104.8" cy="505.6" r="2.5" fill="#2a9bd0"/>
<circle cx="104.8" cy="525.6" r="2.5" fill="#2a9bd0"/>
<circle cx="148.9" cy="457.8" r="2.5" fill="#2a9bd0"/>
<circle cx="148.9" cy="473.3" r="2.5" fill="#2a9bd0"/>
<circle cx="145" cy="481.1" r="2.5" fill="#2a9bd0"/>
<circle cx="152.5" cy="481.6" r="2.5" fill="#2a9bd0"/>
<circle cx="148.9" cy="505.6" r="2.5" fill="#2a9bd0"/>
<circle cx="74.5" cy="437.8" r="2.5" fill="#8fc02c"/>
<circle cx="80.5" cy="436.7" r="2.5" fill="#8fc02c"/>
<circle cx="77.5" cy="452.2" r="2.5" fill="#8fc02c"/>
<circle cx="72.5" cy="458.2" r="2.5" fill="#8fc02c"/>
<circle cx="82" cy="459.6" r="2.5" fill="#8fc02c"/>
<circle cx="77.5" cy="466.7" r="2.5" fill="#8fc02c"/>
<circle cx="121.5" cy="430.4" r="2.5" fill="#8fc02c"/>
<circle cx="117.5" cy="440.4" r="2.5" fill="#8fc02c"/>
<circle cx="125.5" cy="441.1" r="2.5" fill="#8fc02c"/>
<circle cx="121.5" cy="443.3" r="2.5" fill="#8fc02c"/>
<circle cx="117.5" cy="452.2" r="2.5" fill="#8fc02c"/>
<circle cx="121.5" cy="450" r="2.5" fill="#8fc02c"/>
<circle cx="162.5" cy="451.1" r="2.5" fill="#8fc02c"/>
<circle cx="168.5" cy="451.1" r="2.5" fill="#8fc02c"/>
<circle cx="162" cy="461" r="2.5" fill="#8fc02c"/>
<circle cx="169" cy="460" r="2.5" fill="#8fc02c"/>
<circle cx="165.5" cy="457.3" r="2.5" fill="#8fc02c"/>
<text transform="translate(24,539.6) rotate(-90)" style="font-size:8.4px;font-weight:bold" textLength="125.8" lengthAdjust="spacingAndGlyphs">Fold change (logarithmic scale)</text>
<circle cx="206" cy="434.6" r="2.6" fill="#2a9bd0"/>
<text x="218.2" y="437.4" style="font-size:8.7px;fill:#000" text-anchor="start" >WT CM</text>
<circle cx="206" cy="448" r="2.6" fill="#8fc02c"/>
<text x="218.2" y="451.1" style="font-size:8.7px;fill:#000" text-anchor="start" >WT CM + XHX</text>
<text transform="translate(-0.1,592.6) scale(0.81,1)" style="font-size:20px;font-weight:bold">F</text>
<defs><clipPath id="fclip"><rect x="0" y="560" width="348.6" height="160"/></clipPath></defs>
<g clip-path="url(#fclip)">
<text x="194.7" y="595.8" style="font-size:7.95px;font-weight:bold;fill:#000" text-anchor="end" >positive regulation of GTPase activity</text>
<line x1="198.6" y1="593" x2="202.2" y2="593" stroke="#000" stroke-width="1" />
<rect x="202.6" y="589.7" width="123.6" height="6.6" fill="#8fbe2f" />
<text x="330.2" y="596.2" style="font-size:8.8px;fill:#000" text-anchor="start" >37</text>
<text x="194.7" y="605.86" style="font-size:7.95px;font-weight:bold;fill:#000" text-anchor="end" >regulation of small GTPase m. signal transd.</text>
<line x1="198.6" y1="603.06" x2="202.2" y2="603.06" stroke="#000" stroke-width="1" />
<rect x="202.6" y="599.76" width="75.5" height="6.6" fill="#8fbe2f" />
<text x="285.3" y="606.96" style="font-size:8.8px;fill:#000" text-anchor="start" >28</text>
<text x="194.7" y="615.92" style="font-size:7.95px;font-weight:bold;fill:#000" text-anchor="end" >cell-matrix adhesion</text>
<line x1="198.6" y1="613.12" x2="202.2" y2="613.12" stroke="#000" stroke-width="1" />
<rect x="202.6" y="609.82" width="70.6" height="6.6" fill="#8fbe2f" />
<text x="285.3" y="617.02" style="font-size:8.8px;fill:#000" text-anchor="start" >27</text>
<text x="194.7" y="625.98" style="font-size:7.95px;font-weight:bold;fill:#000" text-anchor="end" >regulation of Ras protein signal transduction</text>
<line x1="198.6" y1="623.18" x2="202.2" y2="623.18" stroke="#000" stroke-width="1" />
<rect x="202.6" y="619.88" width="64.5" height="6.6" fill="#8fbe2f" />
<text x="285.3" y="627.08" style="font-size:8.8px;fill:#000" text-anchor="start" >24</text>
<text x="194.7" y="636.04" style="font-size:7.95px;font-weight:bold;fill:#000" text-anchor="end" >stress-activated protein kinase signaling cascade</text>
<line x1="198.6" y1="633.24" x2="202.2" y2="633.24" stroke="#000" stroke-width="1" />
<rect x="202.6" y="629.94" width="57.9" height="6.6" fill="#8fbe2f" />
<text x="285.3" y="637.14" style="font-size:8.8px;fill:#000" text-anchor="start" >26</text>
<text x="194.7" y="646.1" style="font-size:7.95px;font-weight:bold;fill:#000" text-anchor="end" >positive regulation of ERK1 and ERK2 cascade</text>
<line x1="198.6" y1="643.3" x2="202.2" y2="643.3" stroke="#000" stroke-width="1" />
<rect x="202.6" y="640" width="55.6" height="6.6" fill="#8fbe2f" />
<text x="285.3" y="647.2" style="font-size:8.8px;fill:#000" text-anchor="start" >24</text>
<text x="194.7" y="656.16" style="font-size:7.95px;font-weight:bold;fill:#000" text-anchor="end" >regulation of MAP kinase activity</text>
<line x1="198.6" y1="653.36" x2="202.2" y2="653.36" stroke="#000" stroke-width="1" />
<rect x="202.6" y="650.06" width="54.4" height="6.6" fill="#8fbe2f" />
<text x="285.3" y="657.26" style="font-size:8.8px;fill:#000" text-anchor="start" >22</text>
<text x="194.7" y="666.22" style="font-size:7.95px;font-weight:bold;fill:#000" text-anchor="end" >Rac protein signal transduction</text>
<line x1="198.6" y1="663.42" x2="202.2" y2="663.42" stroke="#000" stroke-width="1" />
<rect x="202.6" y="660.12" width="54.4" height="6.6" fill="#8fbe2f" />
<text x="285.3" y="667.32" style="font-size:8.8px;fill:#000" text-anchor="start" >11</text>
<text x="194.7" y="676.28" style="font-size:7.95px;font-weight:bold;fill:#000" text-anchor="end" >tissue remodeling</text>
<line x1="198.6" y1="673.48" x2="202.2" y2="673.48" stroke="#000" stroke-width="1" />
<rect x="202.6" y="670.18" width="52.8" height="6.6" fill="#8fbe2f" />
<text x="285.3" y="677.38" style="font-size:8.8px;fill:#000" text-anchor="start" >22</text>
<text x="194.7" y="686.34" style="font-size:7.95px;font-weight:bold;fill:#000" text-anchor="end" >regulation of Rho protein signal transduction</text>
<line x1="198.6" y1="683.54" x2="202.2" y2="683.54" stroke="#000" stroke-width="1" />
<rect x="202.6" y="680.24" width="24.8" height="6.6" fill="#8fbe2f" />
<text x="285.3" y="687.44" style="font-size:8.8px;fill:#000" text-anchor="start" >10</text>
<line x1="202.2" y1="586" x2="202.2" y2="692.2" stroke="#000" stroke-width="1.1" />
<line x1="201.7" y1="691.7" x2="348.6" y2="691.7" stroke="#000" stroke-width="1.1" />
<line x1="202.2" y1="691.7" x2="202.2" y2="695.7" stroke="#000" stroke-width="1" />
<line x1="212.66" y1="691.7" x2="212.66" y2="694.3" stroke="#000" stroke-width="1" />
<line x1="223.12" y1="691.7" x2="223.12" y2="694.3" stroke="#000" stroke-width="1" />
<line x1="233.58" y1="691.7" x2="233.58" y2="694.3" stroke="#000" stroke-width="1" />
<line x1="244.04" y1="691.7" x2="244.04" y2="694.3" stroke="#000" stroke-width="1" />
<line x1="254.5" y1="691.7" x2="254.5" y2="695.7" stroke="#000" stroke-width="1" />
<line x1="264.96" y1="691.7" x2="264.96" y2="694.3" stroke="#000" stroke-width="1" />
<line x1="275.42" y1="691.7" x2="275.42" y2="694.3" stroke="#000" stroke-width="1" />
<line x1="285.88" y1="691.7" x2="285.88" y2="694.3" stroke="#000" stroke-width="1" />
<line x1="296.34" y1="691.7" x2="296.34" y2="694.3" stroke="#000" stroke-width="1" />
<line x1="306.8" y1="691.7" x2="306.8" y2="695.7" stroke="#000" stroke-width="1" />
<line x1="317.26" y1="691.7" x2="317.26" y2="694.3" stroke="#000" stroke-width="1" />
<line x1="327.72" y1="691.7" x2="327.72" y2="694.3" stroke="#000" stroke-width="1" />
<line x1="338.18" y1="691.7" x2="338.18" y2="694.3" stroke="#000" stroke-width="1" />
<line x1="348.64" y1="691.7" x2="348.64" y2="694.3" stroke="#000" stroke-width="1" />
<text x="202.2" y="703.7" style="font-size:7.9px;font-weight:bold;fill:#000" text-anchor="middle" >0</text>
<text x="254.5" y="703.7" style="font-size:7.9px;font-weight:bold;fill:#000" text-anchor="middle" >5</text>
<text x="306.8" y="703.7" style="font-size:7.9px;font-weight:bold;fill:#000" text-anchor="middle" >10</text>
<text x="306" y="686.6" style="font-size:8.6px;font-weight:bold;fill:#8fbe2f" text-anchor="start" >upregulated</text>
</g>
<text x="280.8" y="717.2" style="font-size:9px" text-anchor="middle"><tspan style="font-weight:bold">-log</tspan><tspan dy="1.8" style="font-size:6.6px;font-weight:bold">10</tspan><tspan dy="-1.8">(p</tspan><tspan dy="1.8" style="font-size:6.8px">adjust</tspan><tspan dy="-1.8">)</tspan></text>
<text transform="translate(354.15,231.6) scale(0.89,1)" style="font-size:20px;font-weight:bold">G</text>
<line x1="401" y1="256.3" x2="401" y2="461.1" stroke="#f1f1f1" stroke-width="1" />
<line x1="428.48" y1="256.3" x2="428.48" y2="461.1" stroke="#f1f1f1" stroke-width="1" />
<line x1="455.96" y1="256.3" x2="455.96" y2="461.1" stroke="#f1f1f1" stroke-width="1" />
<line x1="483.44" y1="256.3" x2="483.44" y2="461.1" stroke="#f1f1f1" stroke-width="1" />
<line x1="510.92" y1="256.3" x2="510.92" y2="461.1" stroke="#f1f1f1" stroke-width="1" />
<line x1="538.4" y1="256.3" x2="538.4" y2="461.1" stroke="#f1f1f1" stroke-width="1" />
<line x1="565.88" y1="256.3" x2="565.88" y2="461.1" stroke="#f1f1f1" stroke-width="1" />
<line x1="593.36" y1="256.3" x2="593.36" y2="461.1" stroke="#f1f1f1" stroke-width="1" />
<line x1="620.84" y1="256.3" x2="620.84" y2="461.1" stroke="#f1f1f1" stroke-width="1" />
<line x1="648.32" y1="256.3" x2="648.32" y2="461.1" stroke="#f1f1f1" stroke-width="1" />
<line x1="387.3" y1="267.2" x2="662.5" y2="267.2" stroke="#e9e9e9" stroke-width="1" />
<line x1="387.3" y1="285.55" x2="662.5" y2="285.55" stroke="#e9e9e9" stroke-width="1" />
<line x1="387.3" y1="303.9" x2="662.5" y2="303.9" stroke="#e9e9e9" stroke-width="1" />
<line x1="387.3" y1="322.25" x2="662.5" y2="322.25" stroke="#e9e9e9" stroke-width="1" />
<line x1="387.3" y1="340.6" x2="662.5" y2="340.6" stroke="#e9e9e9" stroke-width="1" />
<line x1="387.3" y1="358.95" x2="662.5" y2="358.95" stroke="#e9e9e9" stroke-width="1" />
<line x1="387.3" y1="377.3" x2="662.5" y2="377.3" stroke="#e9e9e9" stroke-width="1" />
<line x1="387.3" y1="395.65" x2="662.5" y2="395.65" stroke="#e9e9e9" stroke-width="1" />
<line x1="387.3" y1="414" x2="662.5" y2="414" stroke="#e9e9e9" stroke-width="1" />
<line x1="387.3" y1="432.35" x2="662.5" y2="432.35" stroke="#e9e9e9" stroke-width="1" />
<line x1="387.3" y1="450.7" x2="662.5" y2="450.7" stroke="#e9e9e9" stroke-width="1" />
<rect x="387.3" y="256.3" width="275.2" height="204.8" fill="none" stroke="#d6d6d6" stroke-width="0.9"/>
<rect x="662.5" y="256.3" width="17.5" height="204.8" fill="#efefef" stroke="#d6d6d6" stroke-width="0.9"/>
<ellipse cx="401" cy="267.2" rx="2.2" ry="2.75" fill="#17178b"/>
<ellipse cx="428.48" cy="267.2" rx="2.2" ry="2.75" fill="#fafafc"/>
<ellipse cx="455.96" cy="267.2" rx="2.2" ry="2.75" fill="#8e8ec6"/>
<ellipse cx="483.44" cy="267.2" rx="2.2" ry="2.75" fill="#e4b9bb"/>
<ellipse cx="510.92" cy="267.2" rx="2.2" ry="2.75" fill="#c45858"/>
<ellipse cx="538.4" cy="267.2" rx="2.2" ry="2.75" fill="#efdadb"/>
<ellipse cx="565.88" cy="267.2" rx="2.2" ry="2.75" fill="#f1e0e2"/>
<ellipse cx="593.36" cy="267.2" rx="2.2" ry="2.75" fill="#e1aeb0"/>
<ellipse cx="620.84" cy="267.2" rx="2.2" ry="2.75" fill="#e1aeb0"/>
<ellipse cx="648.32" cy="267.2" rx="2.2" ry="2.75" fill="#e4b9bb"/>
<text transform="translate(384.3,269.4) scale(0.86,1)" style="font-size:6.6px;fill:#4d4d4d" text-anchor="end">Rapgef2</text>
<ellipse cx="401" cy="285.55" rx="2.2" ry="2.75" fill="#5353a9"/>
<ellipse cx="428.48" cy="285.55" rx="2.2" ry="2.75" fill="#cacae4"/>
<ellipse cx="455.96" cy="285.55" rx="2.2" ry="2.75" fill="#6b6bb5"/>
<ellipse cx="483.44" cy="285.55" rx="2.2" ry="2.75" fill="#eeeef6"/>
<ellipse cx="510.92" cy="285.55" rx="2.2" ry="2.75" fill="#cb6e6e"/>
<ellipse cx="538.4" cy="285.55" rx="2.2" ry="2.75" fill="#f9f6f8"/>
<ellipse cx="565.88" cy="285.55" rx="2.2" ry="2.75" fill="#eccfd0"/>
<ellipse cx="593.36" cy="285.55" rx="2.2" ry="2.75" fill="#cb6e6e"/>
<ellipse cx="620.84" cy="285.55" rx="2.2" ry="2.75" fill="#cf7879"/>
<ellipse cx="648.32" cy="285.55" rx="2.2" ry="2.75" fill="#dda4a5"/>
<text transform="translate(384.3,287.75) scale(0.86,1)" style="font-size:6.6px;fill:#4d4d4d" text-anchor="end">Prex1</text>
<ellipse cx="401" cy="303.9" rx="2.2" ry="2.75" fill="#8e8ec6"/>
<ellipse cx="428.48" cy="303.9" rx="2.2" ry="2.75" fill="#8e8ec6"/>
<ellipse cx="455.96" cy="303.9" rx="2.2" ry="2.75" fill="#8e8ec6"/>
<ellipse cx="483.44" cy="303.9" rx="2.2" ry="2.75" fill="#f6eff1"/>
<ellipse cx="510.92" cy="303.9" rx="2.2" ry="2.75" fill="#c04d4e"/>
<ellipse cx="538.4" cy="303.9" rx="2.2" ry="2.75" fill="#d6d6ea"/>
<ellipse cx="565.88" cy="303.9" rx="2.2" ry="2.75" fill="#cacae4"/>
<ellipse cx="593.36" cy="303.9" rx="2.2" ry="2.75" fill="#d28384"/>
<ellipse cx="620.84" cy="303.9" rx="2.2" ry="2.75" fill="#d28384"/>
<ellipse cx="648.32" cy="303.9" rx="2.2" ry="2.75" fill="#c86363"/>
<text transform="translate(384.3,306.1) scale(0.86,1)" style="font-size:6.6px;fill:#4d4d4d" text-anchor="end">P2ry10</text>
<ellipse cx="401" cy="322.25" rx="2.2" ry="2.75" fill="#17178b"/>
<ellipse cx="428.48" cy="322.25" rx="2.2" ry="2.75" fill="#d6d6ea"/>
<ellipse cx="455.96" cy="322.25" rx="2.2" ry="2.75" fill="#8e8ec6"/>
<ellipse cx="483.44" cy="322.25" rx="2.2" ry="2.75" fill="#e8c4c6"/>
<ellipse cx="510.92" cy="322.25" rx="2.2" ry="2.75" fill="#d28384"/>
<ellipse cx="538.4" cy="322.25" rx="2.2" ry="2.75" fill="#eccfd0"/>
<ellipse cx="565.88" cy="322.25" rx="2.2" ry="2.75" fill="#dda4a5"/>
<ellipse cx="593.36" cy="322.25" rx="2.2" ry="2.75" fill="#d28384"/>
<ellipse cx="620.84" cy="322.25" rx="2.2" ry="2.75" fill="#d28384"/>
<ellipse cx="648.32" cy="322.25" rx="2.2" ry="2.75" fill="#da999a"/>
<text transform="translate(384.3,324.45) scale(0.86,1)" style="font-size:6.6px;fill:#4d4d4d" text-anchor="end">Lpar1</text>
<ellipse cx="401" cy="340.6" rx="2.2" ry="2.75" fill="#5353a9"/>
<ellipse cx="428.48" cy="340.6" rx="2.2" ry="2.75" fill="#8e8ec6"/>
<ellipse cx="455.96" cy="340.6" rx="2.2" ry="2.75" fill="#9a9acc"/>
<ellipse cx="483.44" cy="340.6" rx="2.2" ry="2.75" fill="#d6d6ea"/>
<ellipse cx="510.92" cy="340.6" rx="2.2" ry="2.75" fill="#cf7879"/>
<ellipse cx="538.4" cy="340.6" rx="2.2" ry="2.75" fill="#f6eff1"/>
<ellipse cx="565.88" cy="340.6" rx="2.2" ry="2.75" fill="#e4b9bb"/>
<ellipse cx="593.36" cy="340.6" rx="2.2" ry="2.75" fill="#c86363"/>
<ellipse cx="620.84" cy="340.6" rx="2.2" ry="2.75" fill="#cb6e6e"/>
<ellipse cx="648.32" cy="340.6" rx="2.2" ry="2.75" fill="#dda4a5"/>
<text transform="translate(384.3,342.8) scale(0.86,1)" style="font-size:6.6px;fill:#4d4d4d" text-anchor="end">Dock8</text>
<ellipse cx="401" cy="358.95" rx="2.2" ry="2.75" fill="#5353a9"/>
<ellipse cx="428.48" cy="358.95" rx="2.2" ry="2.75" fill="#8e8ec6"/>
<ellipse cx="455.96" cy="358.95" rx="2.2" ry="2.75" fill="#a6a6d2"/>
<ellipse cx="483.44" cy="358.95" rx="2.2" ry="2.75" fill="#e2e2f0"/>
<ellipse cx="510.92" cy="358.95" rx="2.2" ry="2.75" fill="#cf7879"/>
<ellipse cx="538.4" cy="358.95" rx="2.2" ry="2.75" fill="#eccfd0"/>
<ellipse cx="565.88" cy="358.95" rx="2.2" ry="2.75" fill="#e8c4c6"/>
<ellipse cx="593.36" cy="358.95" rx="2.2" ry="2.75" fill="#c86363"/>
<ellipse cx="620.84" cy="358.95" rx="2.2" ry="2.75" fill="#cf7879"/>
<ellipse cx="648.32" cy="358.95" rx="2.2" ry="2.75" fill="#e1aeb0"/>
<text transform="translate(384.3,361.15) scale(0.86,1)" style="font-size:6.6px;fill:#4d4d4d" text-anchor="end">Dock7</text>
<ellipse cx="401" cy="377.3" rx="2.2" ry="2.75" fill="#5353a9"/>
<ellipse cx="428.48" cy="377.3" rx="2.2" ry="2.75" fill="#bebede"/>
<ellipse cx="455.96" cy="377.3" rx="2.2" ry="2.75" fill="#7777bb"/>
<ellipse cx="483.44" cy="377.3" rx="2.2" ry="2.75" fill="#f6eff1"/>
<ellipse cx="510.92" cy="377.3" rx="2.2" ry="2.75" fill="#c86363"/>
<ellipse cx="538.4" cy="377.3" rx="2.2" ry="2.75" fill="#eccfd0"/>
<ellipse cx="565.88" cy="377.3" rx="2.2" ry="2.75" fill="#e4b9bb"/>
<ellipse cx="593.36" cy="377.3" rx="2.2" ry="2.75" fill="#c86363"/>
<ellipse cx="620.84" cy="377.3" rx="2.2" ry="2.75" fill="#d68e8f"/>
<ellipse cx="648.32" cy="377.3" rx="2.2" ry="2.75" fill="#eccfd0"/>
<text transform="translate(384.3,379.5) scale(0.86,1)" style="font-size:6.6px;fill:#4d4d4d" text-anchor="end">Dock11</text>
<ellipse cx="401" cy="395.65" rx="2.2" ry="2.75" fill="#5353a9"/>
<ellipse cx="428.48" cy="395.65" rx="2.2" ry="2.75" fill="#bebede"/>
<ellipse cx="455.96" cy="395.65" rx="2.2" ry="2.75" fill="#3b3b9d"/>
<ellipse cx="483.44" cy="395.65" rx="2.2" ry="2.75" fill="#f3e4e6"/>
<ellipse cx="510.92" cy="395.65" rx="2.2" ry="2.75" fill="#cb6e6e"/>
<ellipse cx="538.4" cy="395.65" rx="2.2" ry="2.75" fill="#e4b9bb"/>
<ellipse cx="565.88" cy="395.65" rx="2.2" ry="2.75" fill="#e4b9bb"/>
<ellipse cx="593.36" cy="395.65" rx="2.2" ry="2.75" fill="#d68e8f"/>
<ellipse cx="620.84" cy="395.65" rx="2.2" ry="2.75" fill="#d68e8f"/>
<ellipse cx="648.32" cy="395.65" rx="2.2" ry="2.75" fill="#e1aeb0"/>
<text transform="translate(384.3,397.85) scale(0.86,1)" style="font-size:6.6px;fill:#4d4d4d" text-anchor="end">Arhgef3</text>
<ellipse cx="401" cy="414" rx="2.2" ry="2.75" fill="#5f5faf"/>
<ellipse cx="428.48" cy="414" rx="2.2" ry="2.75" fill="#e2e2f0"/>
<ellipse cx="455.96" cy="414" rx="2.2" ry="2.75" fill="#5353a9"/>
<ellipse cx="483.44" cy="414" rx="2.2" ry="2.75" fill="#f3e4e6"/>
<ellipse cx="510.92" cy="414" rx="2.2" ry="2.75" fill="#cf7879"/>
<ellipse cx="538.4" cy="414" rx="2.2" ry="2.75" fill="#e8c4c6"/>
<ellipse cx="565.88" cy="414" rx="2.2" ry="2.75" fill="#efdadb"/>
<ellipse cx="593.36" cy="414" rx="2.2" ry="2.75" fill="#cb6e6e"/>
<ellipse cx="620.84" cy="414" rx="2.2" ry="2.75" fill="#d28384"/>
<ellipse cx="648.32" cy="414" rx="2.2" ry="2.75" fill="#e8c4c6"/>
<text transform="translate(384.3,416.2) scale(0.86,1)" style="font-size:6.6px;fill:#4d4d4d" text-anchor="end">Arhgap22</text>
<ellipse cx="401" cy="432.35" rx="2.2" ry="2.75" fill="#9a9acc"/>
<ellipse cx="428.48" cy="432.35" rx="2.2" ry="2.75" fill="#eeeef6"/>
<ellipse cx="455.96" cy="432.35" rx="2.2" ry="2.75" fill="#17178b"/>
<ellipse cx="483.44" cy="432.35" rx="2.2" ry="2.75" fill="#f9f6f8"/>
<ellipse cx="510.92" cy="432.35" rx="2.2" ry="2.75" fill="#dda4a5"/>
<ellipse cx="538.4" cy="432.35" rx="2.2" ry="2.75" fill="#f3e4e6"/>
<ellipse cx="565.88" cy="432.35" rx="2.2" ry="2.75" fill="#e1aeb0"/>
<ellipse cx="593.36" cy="432.35" rx="2.2" ry="2.75" fill="#cf7879"/>
<ellipse cx="620.84" cy="432.35" rx="2.2" ry="2.75" fill="#d28384"/>
<ellipse cx="648.32" cy="432.35" rx="2.2" ry="2.75" fill="#da999a"/>
<text transform="translate(384.3,434.55) scale(0.86,1)" style="font-size:6.6px;fill:#4d4d4d" text-anchor="end">Arhgap19</text>
<ellipse cx="401" cy="450.7" rx="2.2" ry="2.75" fill="#17178b"/>
<ellipse cx="428.48" cy="450.7" rx="2.2" ry="2.75" fill="#b2b2d8"/>
<ellipse cx="455.96" cy="450.7" rx="2.2" ry="2.75" fill="#a6a6d2"/>
<ellipse cx="483.44" cy="450.7" rx="2.2" ry="2.75" fill="#f3e4e6"/>
<ellipse cx="510.92" cy="450.7" rx="2.2" ry="2.75" fill="#da999a"/>
<ellipse cx="538.4" cy="450.7" rx="2.2" ry="2.75" fill="#e8c4c6"/>
<ellipse cx="565.88" cy="450.7" rx="2.2" ry="2.75" fill="#da999a"/>
<ellipse cx="593.36" cy="450.7" rx="2.2" ry="2.75" fill="#d28384"/>
<ellipse cx="620.84" cy="450.7" rx="2.2" ry="2.75" fill="#cf7879"/>
<ellipse cx="648.32" cy="450.7" rx="2.2" ry="2.75" fill="#e4b9bb"/>
<text transform="translate(384.3,452.9) scale(0.86,1)" style="font-size:6.6px;fill:#4d4d4d" text-anchor="end">Arhgap12</text>
<text transform="translate(671.8,358.7) rotate(90)" style="font-size:7.1px;font-weight:bold;fill:#1a1a1a" text-anchor="middle" textLength="65.5" lengthAdjust="spacingAndGlyphs">GTPase-mediated</text>
<text transform="translate(665.1,358.7) rotate(90)" style="font-size:7.1px;font-weight:bold;fill:#1a1a1a" text-anchor="middle" textLength="71" lengthAdjust="spacingAndGlyphs">signal transduction</text>
<line x1="401" y1="467.9" x2="401" y2="563.3" stroke="#f1f1f1" stroke-width="1" />
<line x1="428.48" y1="467.9" x2="428.48" y2="563.3" stroke="#f1f1f1" stroke-width="1" />
<line x1="455.96" y1="467.9" x2="455.96" y2="563.3" stroke="#f1f1f1" stroke-width="1" />
<line x1="483.44" y1="467.9" x2="483.44" y2="563.3" stroke="#f1f1f1" stroke-width="1" />
<line x1="510.92" y1="467.9" x2="510.92" y2="563.3" stroke="#f1f1f1" stroke-width="1" />
<line x1="538.4" y1="467.9" x2="538.4" y2="563.3" stroke="#f1f1f1" stroke-width="1" />
<line x1="565.88" y1="467.9" x2="565.88" y2="563.3" stroke="#f1f1f1" stroke-width="1" />
<line x1="593.36" y1="467.9" x2="593.36" y2="563.3" stroke="#f1f1f1" stroke-width="1" />
<line x1="620.84" y1="467.9" x2="620.84" y2="563.3" stroke="#f1f1f1" stroke-width="1" />
<line x1="648.32" y1="467.9" x2="648.32" y2="563.3" stroke="#f1f1f1" stroke-width="1" />
<line x1="387.3" y1="479" x2="662.5" y2="479" stroke="#e9e9e9" stroke-width="1" />
<line x1="387.3" y1="497.35" x2="662.5" y2="497.35" stroke="#e9e9e9" stroke-width="1" />
<line x1="387.3" y1="515.7" x2="662.5" y2="515.7" stroke="#e9e9e9" stroke-width="1" />
<line x1="387.3" y1="534.05" x2="662.5" y2="534.05" stroke="#e9e9e9" stroke-width="1" />
<line x1="387.3" y1="552.4" x2="662.5" y2="552.4" stroke="#e9e9e9" stroke-width="1" />
<rect x="387.3" y="467.9" width="275.2" height="95.4" fill="none" stroke="#d6d6d6" stroke-width="0.9"/>
<rect x="662.5" y="467.9" width="17.5" height="95.4" fill="#efefef" stroke="#d6d6d6" stroke-width="0.9"/>
<ellipse cx="401" cy="479" rx="2.2" ry="2.75" fill="#8e8ec6"/>
<ellipse cx="428.48" cy="479" rx="2.2" ry="2.75" fill="#a6a6d2"/>
<ellipse cx="455.96" cy="479" rx="2.2" ry="2.75" fill="#232391"/>
<ellipse cx="483.44" cy="479" rx="2.2" ry="2.75" fill="#efdadb"/>
<ellipse cx="510.92" cy="479" rx="2.2" ry="2.75" fill="#d28384"/>
<ellipse cx="538.4" cy="479" rx="2.2" ry="2.75" fill="#fafafc"/>
<ellipse cx="565.88" cy="479" rx="2.2" ry="2.75" fill="#dda4a5"/>
<ellipse cx="593.36" cy="479" rx="2.2" ry="2.75" fill="#cb6e6e"/>
<ellipse cx="620.84" cy="479" rx="2.2" ry="2.75" fill="#cf7879"/>
<ellipse cx="648.32" cy="479" rx="2.2" ry="2.75" fill="#dda4a5"/>
<text transform="translate(384.3,481.2) scale(0.86,1)" style="font-size:6.6px;fill:#4d4d4d" text-anchor="end">Map3k5</text>
<ellipse cx="401" cy="497.35" rx="2.2" ry="2.75" fill="#232391"/>
<ellipse cx="428.48" cy="497.35" rx="2.2" ry="2.75" fill="#9a9acc"/>
<ellipse cx="455.96" cy="497.35" rx="2.2" ry="2.75" fill="#8e8ec6"/>
<ellipse cx="483.44" cy="497.35" rx="2.2" ry="2.75" fill="#e4b9bb"/>
<ellipse cx="510.92" cy="497.35" rx="2.2" ry="2.75" fill="#c86363"/>
<ellipse cx="538.4" cy="497.35" rx="2.2" ry="2.75" fill="#e4b9bb"/>
<ellipse cx="565.88" cy="497.35" rx="2.2" ry="2.75" fill="#e4b9bb"/>
<ellipse cx="593.36" cy="497.35" rx="2.2" ry="2.75" fill="#da999a"/>
<ellipse cx="620.84" cy="497.35" rx="2.2" ry="2.75" fill="#d28384"/>
<ellipse cx="648.32" cy="497.35" rx="2.2" ry="2.75" fill="#dda4a5"/>
<text transform="translate(384.3,499.55) scale(0.86,1)" style="font-size:6.6px;fill:#4d4d4d" text-anchor="end">Map3k1</text>
<ellipse cx="401" cy="515.7" rx="2.2" ry="2.75" fill="#cacae4"/>
<ellipse cx="428.48" cy="515.7" rx="2.2" ry="2.75" fill="#cacae4"/>
<ellipse cx="455.96" cy="515.7" rx="2.2" ry="2.75" fill="#cacae4"/>
<ellipse cx="483.44" cy="515.7" rx="2.2" ry="2.75" fill="#6b6bb5"/>
<ellipse cx="510.92" cy="515.7" rx="2.2" ry="2.75" fill="#cacae4"/>
<ellipse cx="538.4" cy="515.7" rx="2.2" ry="2.75" fill="#cacae4"/>
<ellipse cx="565.88" cy="515.7" rx="2.2" ry="2.75" fill="#dda4a5"/>
<ellipse cx="593.36" cy="515.7" rx="2.2" ry="2.75" fill="#b93838"/>
<ellipse cx="620.84" cy="515.7" rx="2.2" ry="2.75" fill="#b93838"/>
<ellipse cx="648.32" cy="515.7" rx="2.2" ry="2.75" fill="#efdadb"/>
<text transform="translate(384.3,517.9) scale(0.86,1)" style="font-size:6.6px;fill:#4d4d4d" text-anchor="end">Map2k1</text>
<ellipse cx="401" cy="534.05" rx="2.2" ry="2.75" fill="#8e8ec6"/>
<ellipse cx="428.48" cy="534.05" rx="2.2" ry="2.75" fill="#bebede"/>
<ellipse cx="455.96" cy="534.05" rx="2.2" ry="2.75" fill="#17178b"/>
<ellipse cx="483.44" cy="534.05" rx="2.2" ry="2.75" fill="#f6eff1"/>
<ellipse cx="510.92" cy="534.05" rx="2.2" ry="2.75" fill="#d68e8f"/>
<ellipse cx="538.4" cy="534.05" rx="2.2" ry="2.75" fill="#e8c4c6"/>
<ellipse cx="565.88" cy="534.05" rx="2.2" ry="2.75" fill="#e1aeb0"/>
<ellipse cx="593.36" cy="534.05" rx="2.2" ry="2.75" fill="#d28384"/>
<ellipse cx="620.84" cy="534.05" rx="2.2" ry="2.75" fill="#cf7879"/>
<ellipse cx="648.32" cy="534.05" rx="2.2" ry="2.75" fill="#d68e8f"/>
<text transform="translate(384.3,536.25) scale(0.86,1)" style="font-size:6.6px;fill:#4d4d4d" text-anchor="end">Kras</text>
<ellipse cx="401" cy="552.4" rx="2.2" ry="2.75" fill="#7777bb"/>
<ellipse cx="428.48" cy="552.4" rx="2.2" ry="2.75" fill="#9a9acc"/>
<ellipse cx="455.96" cy="552.4" rx="2.2" ry="2.75" fill="#5f5faf"/>
<ellipse cx="483.44" cy="552.4" rx="2.2" ry="2.75" fill="#bebede"/>
<ellipse cx="510.92" cy="552.4" rx="2.2" ry="2.75" fill="#c86363"/>
<ellipse cx="538.4" cy="552.4" rx="2.2" ry="2.75" fill="#f3e4e6"/>
<ellipse cx="565.88" cy="552.4" rx="2.2" ry="2.75" fill="#efdadb"/>
<ellipse cx="593.36" cy="552.4" rx="2.2" ry="2.75" fill="#cb6e6e"/>
<ellipse cx="620.84" cy="552.4" rx="2.2" ry="2.75" fill="#cb6e6e"/>
<ellipse cx="648.32" cy="552.4" rx="2.2" ry="2.75" fill="#d68e8f"/>
<text transform="translate(384.3,554.6) scale(0.86,1)" style="font-size:6.6px;fill:#4d4d4d" text-anchor="end">Fos</text>
<text transform="translate(671.8,515.6) rotate(90)" style="font-size:7.1px;font-weight:bold;fill:#1a1a1a" text-anchor="middle" textLength="58" lengthAdjust="spacingAndGlyphs">MAPK signaling</text>
<text transform="translate(665.1,515.6) rotate(90)" style="font-size:7.1px;font-weight:bold;fill:#1a1a1a" text-anchor="middle" textLength="31.6" lengthAdjust="spacingAndGlyphs">pathway</text>
<line x1="401" y1="570.5" x2="401" y2="646.7" stroke="#f1f1f1" stroke-width="1" />
<line x1="428.48" y1="570.5" x2="428.48" y2="646.7" stroke="#f1f1f1" stroke-width="1" />
<line x1="455.96" y1="570.5" x2="455.96" y2="646.7" stroke="#f1f1f1" stroke-width="1" />
<line x1="483.44" y1="570.5" x2="483.44" y2="646.7" stroke="#f1f1f1" stroke-width="1" />
<line x1="510.92" y1="570.5" x2="510.92" y2="646.7" stroke="#f1f1f1" stroke-width="1" />
<line x1="538.4" y1="570.5" x2="538.4" y2="646.7" stroke="#f1f1f1" stroke-width="1" />
<line x1="565.88" y1="570.5" x2="565.88" y2="646.7" stroke="#f1f1f1" stroke-width="1" />
<line x1="593.36" y1="570.5" x2="593.36" y2="646.7" stroke="#f1f1f1" stroke-width="1" />
<line x1="620.84" y1="570.5" x2="620.84" y2="646.7" stroke="#f1f1f1" stroke-width="1" />
<line x1="648.32" y1="570.5" x2="648.32" y2="646.7" stroke="#f1f1f1" stroke-width="1" />
<line x1="387.3" y1="580.9" x2="662.5" y2="580.9" stroke="#e9e9e9" stroke-width="1" />
<line x1="387.3" y1="599.25" x2="662.5" y2="599.25" stroke="#e9e9e9" stroke-width="1" />
<line x1="387.3" y1="617.6" x2="662.5" y2="617.6" stroke="#e9e9e9" stroke-width="1" />
<line x1="387.3" y1="635.95" x2="662.5" y2="635.95" stroke="#e9e9e9" stroke-width="1" />
<rect x="387.3" y="570.5" width="275.2" height="76.2" fill="none" stroke="#d6d6d6" stroke-width="0.9"/>
<rect x="662.5" y="570.5" width="17.5" height="76.2" fill="#efefef" stroke="#d6d6d6" stroke-width="0.9"/>
<ellipse cx="401" cy="580.9" rx="2.2" ry="2.75" fill="#6b6bb5"/>
<ellipse cx="428.48" cy="580.9" rx="2.2" ry="2.75" fill="#bebede"/>
<ellipse cx="455.96" cy="580.9" rx="2.2" ry="2.75" fill="#6b6bb5"/>
<ellipse cx="483.44" cy="580.9" rx="2.2" ry="2.75" fill="#e2e2f0"/>
<ellipse cx="510.92" cy="580.9" rx="2.2" ry="2.75" fill="#c86363"/>
<ellipse cx="538.4" cy="580.9" rx="2.2" ry="2.75" fill="#f3e4e6"/>
<ellipse cx="565.88" cy="580.9" rx="2.2" ry="2.75" fill="#efdadb"/>
<ellipse cx="593.36" cy="580.9" rx="2.2" ry="2.75" fill="#cb6e6e"/>
<ellipse cx="620.84" cy="580.9" rx="2.2" ry="2.75" fill="#cb6e6e"/>
<ellipse cx="648.32" cy="580.9" rx="2.2" ry="2.75" fill="#e1aeb0"/>
<text transform="translate(384.3,583.1) scale(0.86,1)" style="font-size:6.6px;fill:#4d4d4d" text-anchor="end">Tnfrsf11a</text>
<ellipse cx="401" cy="599.25" rx="2.2" ry="2.75" fill="#5f5faf"/>
<ellipse cx="428.48" cy="599.25" rx="2.2" ry="2.75" fill="#8e8ec6"/>
<ellipse cx="455.96" cy="599.25" rx="2.2" ry="2.75" fill="#6b6bb5"/>
<ellipse cx="483.44" cy="599.25" rx="2.2" ry="2.75" fill="#da999a"/>
<ellipse cx="510.92" cy="599.25" rx="2.2" ry="2.75" fill="#da999a"/>
<ellipse cx="538.4" cy="599.25" rx="2.2" ry="2.75" fill="#dda4a5"/>
<ellipse cx="565.88" cy="599.25" rx="2.2" ry="2.75" fill="#c86363"/>
<ellipse cx="593.36" cy="599.25" rx="2.2" ry="2.75" fill="#d28384"/>
<ellipse cx="620.84" cy="599.25" rx="2.2" ry="2.75" fill="#d68e8f"/>
<ellipse cx="648.32" cy="599.25" rx="2.2" ry="2.75" fill="#f3e4e6"/>
<text transform="translate(384.3,601.45) scale(0.86,1)" style="font-size:6.6px;fill:#4d4d4d" text-anchor="end">Notch2</text>
<ellipse cx="401" cy="617.6" rx="2.2" ry="2.75" fill="#8282c0"/>
<ellipse cx="428.48" cy="617.6" rx="2.2" ry="2.75" fill="#e2e2f0"/>
<ellipse cx="455.96" cy="617.6" rx="2.2" ry="2.75" fill="#17178b"/>
<ellipse cx="483.44" cy="617.6" rx="2.2" ry="2.75" fill="#f6eff1"/>
<ellipse cx="510.92" cy="617.6" rx="2.2" ry="2.75" fill="#da999a"/>
<ellipse cx="538.4" cy="617.6" rx="2.2" ry="2.75" fill="#e1aeb0"/>
<ellipse cx="565.88" cy="617.6" rx="2.2" ry="2.75" fill="#e1aeb0"/>
<ellipse cx="593.36" cy="617.6" rx="2.2" ry="2.75" fill="#d28384"/>
<ellipse cx="620.84" cy="617.6" rx="2.2" ry="2.75" fill="#d28384"/>
<ellipse cx="648.32" cy="617.6" rx="2.2" ry="2.75" fill="#d68e8f"/>
<text transform="translate(384.3,619.8) scale(0.86,1)" style="font-size:6.6px;fill:#4d4d4d" text-anchor="end">Mmp8</text>
<ellipse cx="401" cy="635.95" rx="2.2" ry="2.75" fill="#6b6bb5"/>
<ellipse cx="428.48" cy="635.95" rx="2.2" ry="2.75" fill="#a6a6d2"/>
<ellipse cx="455.96" cy="635.95" rx="2.2" ry="2.75" fill="#8e8ec6"/>
<ellipse cx="483.44" cy="635.95" rx="2.2" ry="2.75" fill="#d6d6ea"/>
<ellipse cx="510.92" cy="635.95" rx="2.2" ry="2.75" fill="#d68e8f"/>
<ellipse cx="538.4" cy="635.95" rx="2.2" ry="2.75" fill="#d6d6ea"/>
<ellipse cx="565.88" cy="635.95" rx="2.2" ry="2.75" fill="#eccfd0"/>
<ellipse cx="593.36" cy="635.95" rx="2.2" ry="2.75" fill="#c45858"/>
<ellipse cx="620.84" cy="635.95" rx="2.2" ry="2.75" fill="#c45858"/>
<ellipse cx="648.32" cy="635.95" rx="2.2" ry="2.75" fill="#da999a"/>
<text transform="translate(384.3,638.15) scale(0.86,1)" style="font-size:6.6px;fill:#4d4d4d" text-anchor="end">Enpp1</text>
<text transform="translate(668.6,608.6) rotate(90)" style="font-size:7.1px;font-weight:bold;fill:#1a1a1a" text-anchor="middle" textLength="68" lengthAdjust="spacingAndGlyphs">Tissue remodelling</text>
<text transform="translate(404.8,656.6) rotate(-48) scale(0.9,1)" style="font-size:7.4px;font-style:italic;fill:#333" text-anchor="end">Ctrl</text>
<text transform="translate(432.28,656.6) rotate(-48) scale(0.9,1)" style="font-size:7.4px;font-style:italic;fill:#333" text-anchor="end">Ctrl</text>
<text transform="translate(459.76,656.6) rotate(-48) scale(0.9,1)" style="font-size:7.4px;font-style:italic;fill:#333" text-anchor="end">Ctrl</text>
<text transform="translate(487.24,656.6) rotate(-48) scale(0.9,1)" style="font-size:7.4px;font-style:italic;fill:#333" text-anchor="end">Hypox</text>
<text transform="translate(514.72,656.6) rotate(-48) scale(0.9,1)" style="font-size:7.4px;font-style:italic;fill:#333" text-anchor="end">Hypox</text>
<text transform="translate(542.2,656.6) rotate(-48) scale(0.9,1)" style="font-size:7.4px;font-style:italic;fill:#333" text-anchor="end">Hypox</text>
<text transform="translate(569.68,656.6) rotate(-48) scale(0.9,1)" style="font-size:7.4px;font-style:italic;fill:#333" text-anchor="end">Xanth</text>
<text transform="translate(597.16,656.6) rotate(-48) scale(0.9,1)" style="font-size:7.4px;font-style:italic;fill:#333" text-anchor="end">Xanth</text>
<text transform="translate(624.64,656.6) rotate(-48) scale(0.9,1)" style="font-size:7.4px;font-style:italic;fill:#333" text-anchor="end">Xanth</text>
<text transform="translate(652.12,656.6) rotate(-48) scale(0.9,1)" style="font-size:7.4px;font-style:italic;fill:#333" text-anchor="end">Xanth</text>
<text transform="translate(524.5,681.4) scale(0.87,1)" style="font-size:7.6px;fill:#000" text-anchor="middle">Condition (by sample)</text>
<text transform="translate(357.2,451.4) rotate(-90)" style="font-size:8.4px;fill:#000" text-anchor="middle">Genes</text>
<rect x="497.9" y="696.1" width="101.6" height="8.8" fill="url(#cbar)" />
<line x1="504" y1="696.1" x2="504" y2="697.9" stroke="#fff" stroke-width="0.6" />
<line x1="504" y1="703.1" x2="504" y2="704.9" stroke="#fff" stroke-width="0.6" />
<text transform="translate(504,714.6) scale(0.87,1)" style="font-size:7.4px;fill:#333" text-anchor="middle">-2</text>
<line x1="529.4" y1="696.1" x2="529.4" y2="697.9" stroke="#fff" stroke-width="0.6" />
<line x1="529.4" y1="703.1" x2="529.4" y2="704.9" stroke="#fff" stroke-width="0.6" />
<text transform="translate(529.4,714.6) scale(0.87,1)" style="font-size:7.4px;fill:#333" text-anchor="middle">-1</text>
<line x1="554.8" y1="696.1" x2="554.8" y2="697.9" stroke="#fff" stroke-width="0.6" />
<line x1="554.8" y1="703.1" x2="554.8" y2="704.9" stroke="#fff" stroke-width="0.6" />
<text transform="translate(554.8,714.6) scale(0.87,1)" style="font-size:7.4px;fill:#333" text-anchor="middle">0</text>
<line x1="580.2" y1="696.1" x2="580.2" y2="697.9" stroke="#fff" stroke-width="0.6" />
<line x1="580.2" y1="703.1" x2="580.2" y2="704.9" stroke="#fff" stroke-width="0.6" />
<text transform="translate(580.2,714.6) scale(0.87,1)" style="font-size:7.4px;fill:#333" text-anchor="middle">1</text>
<text transform="translate(461.2,703.2) scale(0.87,1)" style="font-size:5.9px;fill:#000" text-anchor="middle">Scaled expression</text>
</svg></body></html>
